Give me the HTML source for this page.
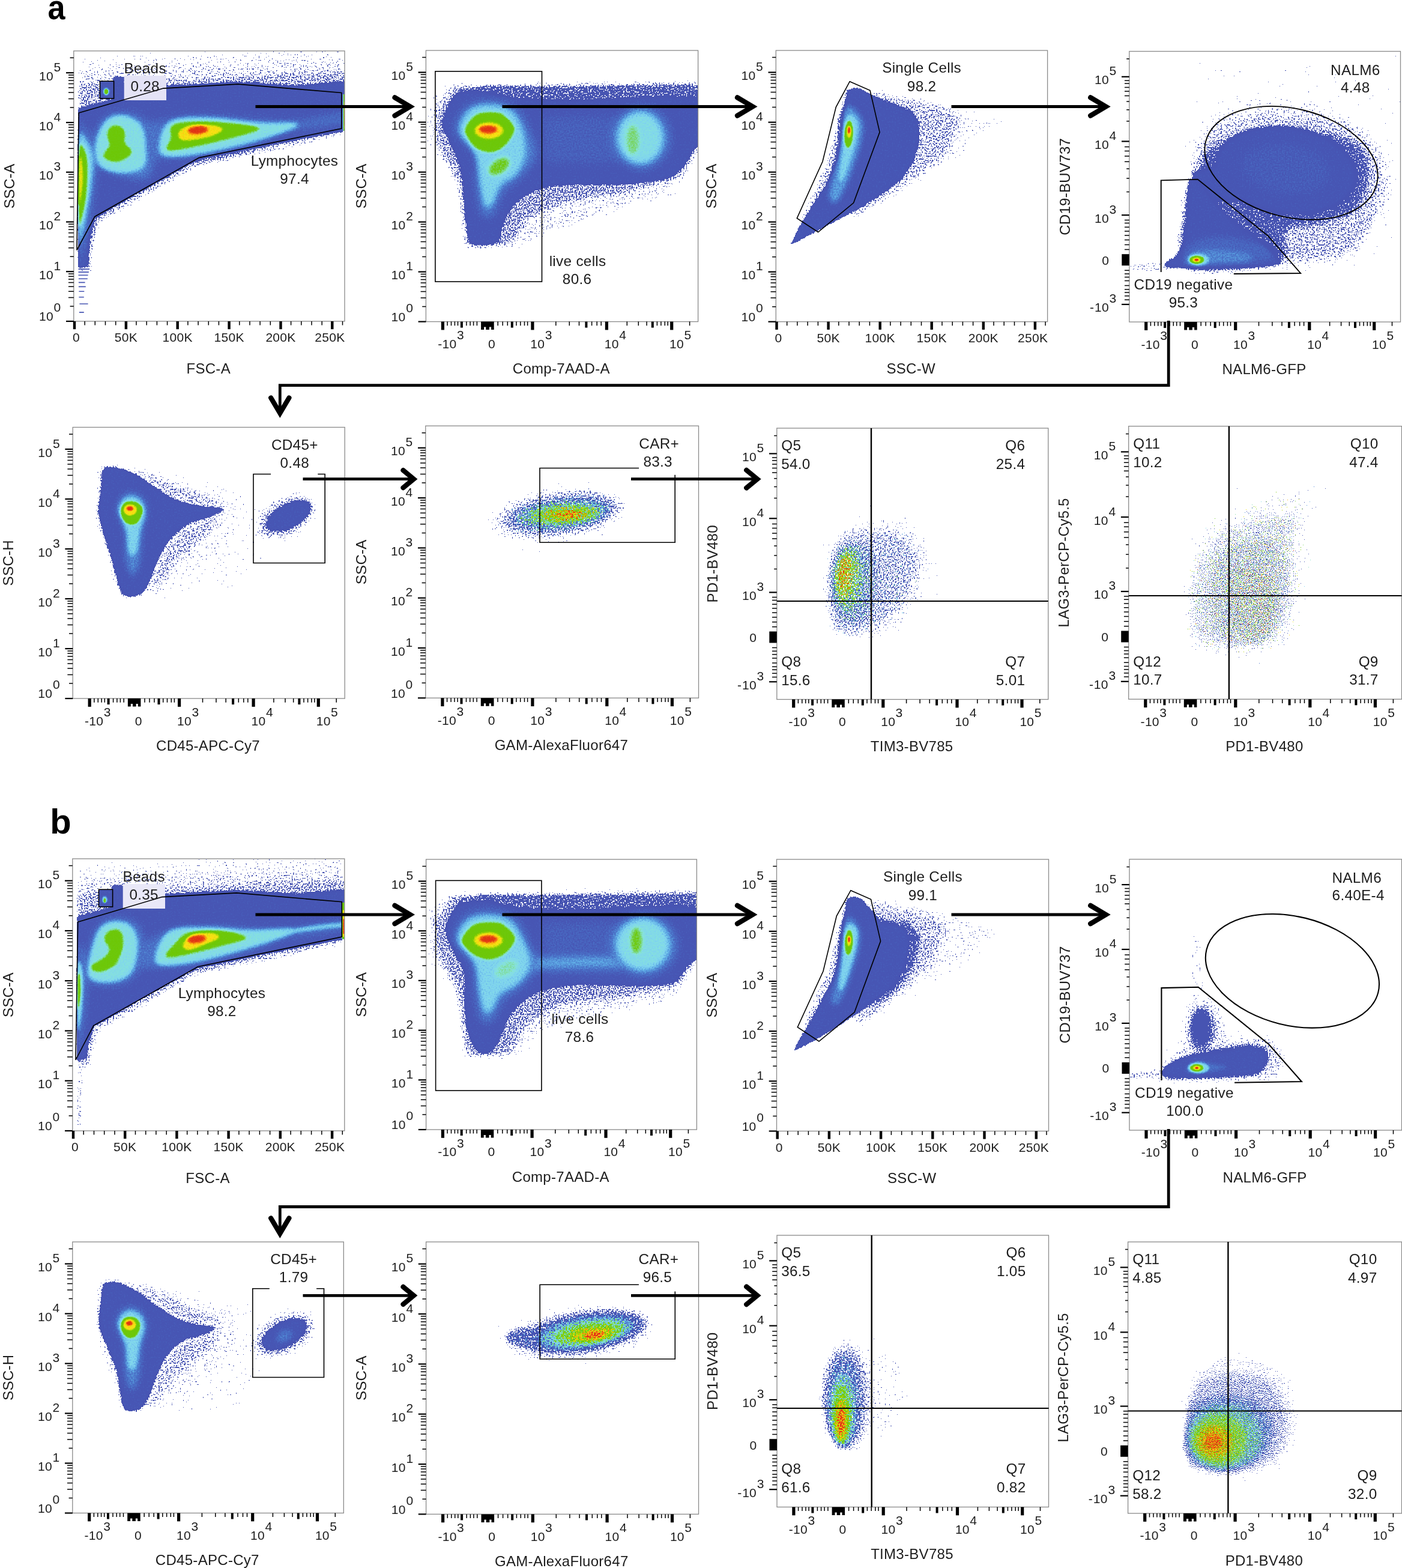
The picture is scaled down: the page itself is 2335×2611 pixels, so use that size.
<!DOCTYPE html>
<html lang="en"><head><meta charset="utf-8"><title>Flow cytometry gating strategy</title>
<style>html,body{margin:0;padding:0;background:#fff}svg{display:block}text{font-family:"Liberation Sans",Arial,Helvetica,sans-serif;fill:#1c1c1c;letter-spacing:.3px}</style>
</head><body>
<svg width="2335" height="2611" viewBox="0 0 2335 2611" role="img" aria-label="Flow cytometry gating strategy, panels a and b">
<rect width="100%" height="100%" fill="#fff"/>
<defs><filter id="b2" filterUnits="userSpaceOnUse" x="-120" y="-120" width="2060" height="2060" color-interpolation-filters="sRGB"><feGaussianBlur stdDeviation="2"/></filter><filter id="b3" filterUnits="userSpaceOnUse" x="-120" y="-120" width="2060" height="2060" color-interpolation-filters="sRGB"><feGaussianBlur stdDeviation="3"/></filter><filter id="b4" filterUnits="userSpaceOnUse" x="-120" y="-120" width="2060" height="2060" color-interpolation-filters="sRGB"><feGaussianBlur stdDeviation="4"/></filter><filter id="b5" filterUnits="userSpaceOnUse" x="-120" y="-120" width="2060" height="2060" color-interpolation-filters="sRGB"><feGaussianBlur stdDeviation="5"/></filter><filter id="b6" filterUnits="userSpaceOnUse" x="-120" y="-120" width="2060" height="2060" color-interpolation-filters="sRGB"><feGaussianBlur stdDeviation="6"/></filter><filter id="b7" filterUnits="userSpaceOnUse" x="-120" y="-120" width="2060" height="2060" color-interpolation-filters="sRGB"><feGaussianBlur stdDeviation="7"/></filter><filter id="b8" filterUnits="userSpaceOnUse" x="-120" y="-120" width="2060" height="2060" color-interpolation-filters="sRGB"><feGaussianBlur stdDeviation="8"/></filter><filter id="b9" filterUnits="userSpaceOnUse" x="-120" y="-120" width="2060" height="2060" color-interpolation-filters="sRGB"><feGaussianBlur stdDeviation="9"/></filter><filter id="b10" filterUnits="userSpaceOnUse" x="-120" y="-120" width="2060" height="2060" color-interpolation-filters="sRGB"><feGaussianBlur stdDeviation="10"/></filter><filter id="b11" filterUnits="userSpaceOnUse" x="-120" y="-120" width="2060" height="2060" color-interpolation-filters="sRGB"><feGaussianBlur stdDeviation="11"/></filter><filter id="b12" filterUnits="userSpaceOnUse" x="-120" y="-120" width="2060" height="2060" color-interpolation-filters="sRGB"><feGaussianBlur stdDeviation="12"/></filter><filter id="b14" filterUnits="userSpaceOnUse" x="-120" y="-120" width="2060" height="2060" color-interpolation-filters="sRGB"><feGaussianBlur stdDeviation="14"/></filter><filter id="b15" filterUnits="userSpaceOnUse" x="-120" y="-120" width="2060" height="2060" color-interpolation-filters="sRGB"><feGaussianBlur stdDeviation="15"/></filter><filter id="b16" filterUnits="userSpaceOnUse" x="-120" y="-120" width="2060" height="2060" color-interpolation-filters="sRGB"><feGaussianBlur stdDeviation="16"/></filter><filter id="b18" filterUnits="userSpaceOnUse" x="-120" y="-120" width="2060" height="2060" color-interpolation-filters="sRGB"><feGaussianBlur stdDeviation="18"/></filter><filter id="b20" filterUnits="userSpaceOnUse" x="-120" y="-120" width="2060" height="2060" color-interpolation-filters="sRGB"><feGaussianBlur stdDeviation="20"/></filter><filter id="b22" filterUnits="userSpaceOnUse" x="-120" y="-120" width="2060" height="2060" color-interpolation-filters="sRGB"><feGaussianBlur stdDeviation="22"/></filter><filter id="b24" filterUnits="userSpaceOnUse" x="-120" y="-120" width="2060" height="2060" color-interpolation-filters="sRGB"><feGaussianBlur stdDeviation="24"/></filter><filter id="b26" filterUnits="userSpaceOnUse" x="-120" y="-120" width="2060" height="2060" color-interpolation-filters="sRGB"><feGaussianBlur stdDeviation="26"/></filter><filter id="b28" filterUnits="userSpaceOnUse" x="-120" y="-120" width="2060" height="2060" color-interpolation-filters="sRGB"><feGaussianBlur stdDeviation="28"/></filter><filter id="b30" filterUnits="userSpaceOnUse" x="-120" y="-120" width="2060" height="2060" color-interpolation-filters="sRGB"><feGaussianBlur stdDeviation="30"/></filter><filter id="b35" filterUnits="userSpaceOnUse" x="-120" y="-120" width="2060" height="2060" color-interpolation-filters="sRGB"><feGaussianBlur stdDeviation="35"/></filter><filter id="b40" filterUnits="userSpaceOnUse" x="-120" y="-120" width="2060" height="2060" color-interpolation-filters="sRGB"><feGaussianBlur stdDeviation="40"/></filter></defs>
<clipPath id="c1"><rect x="122.8" y="84.8" width="451.2" height="450.2"/></clipPath>
<clipPath id="c2"><rect x="709.4" y="84" width="453.2" height="451.6"/></clipPath>
<clipPath id="c3"><rect x="1292.3" y="84" width="452.3" height="451.7"/></clipPath>
<clipPath id="c4"><rect x="1880.8" y="85.5" width="451.7" height="450.6"/></clipPath>
<clipPath id="c5"><rect x="121.2" y="711.5" width="453" height="451.6"/></clipPath>
<clipPath id="c6"><rect x="708.8" y="709.2" width="454.7" height="453.1"/></clipPath>
<clipPath id="c7"><rect x="1293.8" y="713" width="452" height="451.6"/></clipPath>
<clipPath id="c8"><rect x="1879.7" y="709.7" width="454.8" height="454.6"/></clipPath>
<clipPath id="c9"><rect x="120.8" y="1430" width="453" height="453"/></clipPath>
<clipPath id="c10"><rect x="709.6" y="1431" width="450.8" height="450"/></clipPath>
<clipPath id="c11"><rect x="1293.5" y="1431" width="453" height="452.5"/></clipPath>
<clipPath id="c12"><rect x="1881" y="1430.8" width="453.5" height="451.2"/></clipPath>
<clipPath id="c13"><rect x="120.8" y="2068" width="451.5" height="451.5"/></clipPath>
<clipPath id="c14"><rect x="709.6" y="2068" width="453.9" height="453.4"/></clipPath>
<clipPath id="c15"><rect x="1294" y="2057" width="452.5" height="452.5"/></clipPath>
<clipPath id="c16"><rect x="1878.6" y="2068" width="455.9" height="452"/></clipPath>
<g id="panel1">
<filter id="d1" filterUnits="userSpaceOnUse" x="122.8" y="84.8" width="451.2" height="450.2" color-interpolation-filters="sRGB"><feTurbulence type="fractalNoise" baseFrequency="0.42" numOctaves="1" seed="3" result="t"/><feColorMatrix in="t" type="matrix" values="0 0 0 0 0 0 0 0 0 0 0 0 0 0 0 1 0 0 0 0" result="na"/><feColorMatrix in="SourceGraphic" type="matrix" values="0 0 0 0 0 0 0 0 0 0 0 0 0 0 0 1 0 0 0 0"/><feComponentTransfer result="da"><feFuncA type="table" tableValues="0 0.11 0.23 0.36 0.5 0.66 0.85 1 1 1 1 1 1 1 1 1 1 1 1 1 1"/></feComponentTransfer><feComposite in="da" in2="na" operator="arithmetic" k1="0" k2="1" k3="1" k4="-0.36"/><feComponentTransfer result="m"><feFuncA type="discrete" tableValues="0 1"/></feComponentTransfer><feColorMatrix in="t" type="matrix" values="0 1 0 0 0 0 1 0 0 0 0 1 0 0 0 0 0 0 0 1" result="ng"/><feComposite in="SourceGraphic" in2="ng" operator="arithmetic" k1="0" k2="1" k3="0.1" k4="-0.05"/><feComponentTransfer result="col"><feFuncR type="table" tableValues="0.28 0.28 0.28 0.28 0.28 0.28 0.28 0.28 0.29 0.36 0.5 0.53 0.49 0.43 0.43 0.5 0.76 0.98 0.98 0.92 0.88"/><feFuncG type="table" tableValues="0.33 0.33 0.33 0.33 0.33 0.33 0.33 0.34 0.44 0.65 0.83 0.89 0.85 0.79 0.78 0.8 0.86 0.89 0.67 0.35 0.2"/><feFuncB type="table" tableValues="0.7 0.7 0.7 0.7 0.7 0.7 0.7 0.71 0.78 0.89 0.94 0.86 0.51 0.06 0.02 0.02 0.04 0.08 0.06 0.08 0.08"/></feComponentTransfer><feComposite in="col" in2="m" operator="in"/></filter><g filter="url(#d1)"><rect x="102.8" y="64.8" width="491.2" height="490.2" fill="#000"/><clipPath id="z1"><rect x="129.7" y="82.5" width="450.3" height="459.5"/></clipPath><g clip-path="url(#z1)"><g clip-path="url(#c1)"><g transform="translate(123 85) scale(0.24835)"><path d="M30 30L1830 -60L1830 260L30 340Z" fill="#121212" filter="url(#b30)"/><path d="M30 130L600 110L1830 60L1830 260L30 340Z" fill="#1a1a1a" filter="url(#b22)"/><path d="M30 225L600 195L1100 170L1830 140L1830 280L30 400Z" fill="#242424" filter="url(#b14)"/><path d="M1830 560L1400 660L840 775L500 965L170 1160L130 1300L120 1480L30 1480L30 400L1830 300Z" fill="#212121" filter="url(#b18)"/><path d="M30 385L170 350L268 322L268 175L335 175L340 300L600 238L1100 210L1500 235L1700 215L1830 205L1830 528L1400 612L840 722L500 910L140 1118L100 1250L95 1440L30 1455Z" fill="#575757" filter="url(#b6)"/><path d="M175 202L268 202L268 318L175 318Z" fill="#575757" filter="url(#b3)"/><path d="M30 540C41.7 396.7 78.3 513.3 100 540C121.7 566.7 151.7 640 160 700C168.3 760 159.2 816.7 150 900C140.8 983.3 121.7 1116.7 105 1200C88.3 1283.3 62.5 1366.7 50 1400C37.5 1433.3 33.3 1543.3 30 1400C26.7 1256.7 18.3 683.3 30 540Z" fill="#666666" filter="url(#b26)"/><path d="M120 620C128.3 568.3 165 485 200 450C235 415 283.3 408.3 330 410C376.7 411.7 445 425 480 460C515 495 533.3 560 540 620C546.7 680 540 780 520 820C500 860 465 861.7 420 860C375 858.3 295 826.7 250 810C205 793.3 171.7 791.7 150 760C128.3 728.3 111.7 671.7 120 620Z" fill="#6b6b6b" filter="url(#b30)"/><path d="M430 520C463.3 478.3 561.7 465 640 450C718.3 435 798.3 429.2 900 430C1001.7 430.8 1150 450 1250 455C1350 460 1403.3 467.5 1500 460C1596.7 452.5 1775 406.7 1830 410C1885 413.3 1901.7 457 1830 480C1758.3 503 1496.7 526 1400 548C1303.3 570 1333.3 587.5 1250 612C1166.7 636.5 1005 676.2 900 695C795 713.8 696.7 724.2 620 725C543.3 725.8 471.7 734.2 440 700C408.3 665.8 396.7 561.7 430 520Z" fill="#666666" filter="url(#b30)"/><path d="M32 600C40.8 491.7 68.7 580 85 600C101.3 620 124.5 670 130 720C135.5 770 125.7 836.7 118 900C110.3 963.3 95.3 1041.7 84 1100C72.7 1158.3 58.7 1225 50 1250C41.3 1275 35 1358.3 32 1250C29 1141.7 23.2 708.3 32 600Z" fill="#808080" filter="url(#b14)"/><path d="M150 615C157.5 566.7 185 500.5 215 470C245 439.5 290.8 427 330 432C369.2 437 424.7 463.7 450 500C475.3 536.3 480.3 603.3 482 650C483.7 696.7 490.3 752.5 460 780C429.7 807.5 348.3 818.3 300 815C251.7 811.7 195 793.3 170 760C145 726.7 142.5 663.3 150 615Z" fill="#878787" filter="url(#b15)"/><path d="M575 620C580 580.7 595.8 499 650 470C704.2 441 800 444.3 900 446C1000 447.7 1153.3 474 1250 480C1346.7 486 1441.7 476.3 1480 482C1518.3 487.7 1518.3 495.3 1480 514C1441.7 532.7 1346.7 566.7 1250 594C1153.3 621.3 1005 659.3 900 678C795 696.7 674.2 715.7 620 706C565.8 696.3 570 659.3 575 620Z" fill="#878787" filter="url(#b14)"/><path d="M33 670C38.8 587 58 637 68 652C78 667 90 710.3 93 760C96 809.7 90.8 896.7 86 950C81.2 1003.3 72.8 1046.7 64 1080C55.2 1113.3 38.2 1218.3 33 1150C27.8 1081.7 27.2 753 33 670Z" fill="#adadad" filter="url(#b8)"/><path d="M280 498C293.3 498.5 314.5 504.5 325 514C335.5 523.5 340.7 540.7 343 555C345.3 569.3 337.5 587.5 339 600C340.5 612.5 344.2 619.2 352 630C359.8 640.8 382 653.3 386 665C390 676.7 385.3 689.2 376 700C366.7 710.8 344.3 723 330 730C315.7 737 305.8 741 290 742C274.2 743 250.2 742.2 235 736C219.8 729.8 202.5 716 199 705C195.5 694 207.2 682.5 214 670C220.8 657.5 237.7 643.3 240 630C242.3 616.7 230.7 603.3 228 590C225.3 576.7 221.2 563.2 224 550C226.8 536.8 235.7 519.7 245 511C254.3 502.3 266.7 497.5 280 498Z" fill="#adadad" filter="url(#b9)"/><path d="M655 505C673.3 486.7 702.5 479.5 760 475C817.5 470.5 919.2 470.5 1000 478C1080.8 485.5 1245 500 1245 520C1245 540 1090.8 574.3 1000 598C909.2 621.7 763 652.5 700 662C637 671.5 630.3 667.8 622 655C613.7 642.2 644.5 610 650 585C655.5 560 636.7 523.3 655 505Z" fill="#adadad" filter="url(#b8)"/><path d="M35 735C37.8 685.8 47.5 695.8 52 715C56.5 734.2 62.7 802.5 62 850C61.3 897.5 52.5 973.3 48 1000C43.5 1026.7 37.2 1054.2 35 1010C32.8 965.8 32.2 784.2 35 735Z" fill="#d9d9d9" filter="url(#b8)"/><path d="M715 525C732 512 760.8 496.7 800 492C839.2 487.3 916.7 490.7 950 497C983.3 503.3 1008.3 516.2 1000 530C991.7 543.8 943.3 568 900 580C856.7 592 773.7 603.7 740 602C706.3 600.3 702.2 582.8 698 570C693.8 557.2 698 538 715 525Z" fill="#d9d9d9" filter="url(#b9)"/><ellipse cx="832" cy="530" rx="68" ry="27" fill="#ffffff" transform="rotate(-5 832 530)" filter="url(#b8)"/><ellipse cx="217" cy="272" rx="22" ry="26" fill="#808080" filter="url(#b4)"/><ellipse cx="217" cy="272" rx="13" ry="17" fill="#adadad" filter="url(#b3)"/><path d="M1806 290L1830 290L1830 535L1806 535Z" fill="#adadad" filter="url(#b3)"/><path d="M1811 340L1830 340L1830 520L1811 520Z" fill="#d9d9d9" filter="url(#b3)"/><path d="M1814 400L1830 400L1830 500L1814 500Z" fill="#ffffff" filter="url(#b2)"/></g></g></g></g><path d="M130.5 448.1h18.6M130.5 453.1h17.4M130.5 458.3h16.1M130.9 464.2h14.9M130.9 470.4h10.7M130.9 477.4h11.9M131.4 485.3h8.9M131.4 494.8h8.4M132.4 506h14.2M131.9 520.1h7.9" stroke="#4755b3" stroke-width="1.6" fill="none"/>
<rect x="122.8" y="84.8" width="451.2" height="450.2" fill="none" stroke="#8a8a8a" stroke-width="1.3"/>
<rect x="110" y="533.9" width="12.8" height="2.2"/>
<text x="88.9" y="534.2" font-size="21" text-anchor="end">10</text>
<text x="101.6" y="519.2" font-size="21" text-anchor="end">0</text>
<rect x="110" y="451.1" width="12.8" height="2.2"/>
<text x="88.9" y="464.7" font-size="21" text-anchor="end">10</text>
<text x="101.6" y="449.7" font-size="21" text-anchor="end">1</text>
<rect x="110" y="368.4" width="12.8" height="2.2"/>
<text x="88.9" y="382" font-size="21" text-anchor="end">10</text>
<text x="101.6" y="367" font-size="21" text-anchor="end">2</text>
<rect x="110" y="285.6" width="12.8" height="2.2"/>
<text x="88.9" y="299.2" font-size="21" text-anchor="end">10</text>
<text x="101.6" y="284.2" font-size="21" text-anchor="end">3</text>
<rect x="110" y="202.9" width="12.8" height="2.2"/>
<text x="88.9" y="216.5" font-size="21" text-anchor="end">10</text>
<text x="101.6" y="201.5" font-size="21" text-anchor="end">4</text>
<rect x="110" y="120.1" width="12.8" height="2.2"/>
<text x="88.9" y="133.7" font-size="21" text-anchor="end">10</text>
<text x="101.6" y="118.7" font-size="21" text-anchor="end">5</text>
<rect x="121.8" y="535" width="4.4" height="13.2"/>
<text x="127" y="569.2" font-size="21" text-anchor="middle">0</text>
<rect x="207.7" y="535" width="4.4" height="13.2"/>
<text x="209.9" y="569.2" font-size="21" text-anchor="middle">50K</text>
<rect x="293.5" y="535" width="4.4" height="13.2"/>
<text x="295.7" y="569.2" font-size="21" text-anchor="middle">100K</text>
<rect x="379.4" y="535" width="4.4" height="13.2"/>
<text x="381.6" y="569.2" font-size="21" text-anchor="middle">150K</text>
<rect x="465.3" y="535" width="4.4" height="13.2"/>
<text x="467.5" y="569.2" font-size="21" text-anchor="middle">200K</text>
<rect x="551.1" y="535" width="4.4" height="13.2"/>
<text x="574.6" y="569.2" font-size="21" text-anchor="end">250K</text>
<path d="M116.6 510.1h6.2M114 495.5h8.8M114 485.2h8.8M114 477.2h8.8M114 470.6h8.8M114 465.1h8.8M114 460.3h8.8M114 456h8.8M116.6 427.3h6.2M114 412.8h8.8M114 402.4h8.8M114 394.4h8.8M114 387.8h8.8M114 382.3h8.8M114 377.5h8.8M114 373.3h8.8M116.6 344.6h6.2M114 330h8.8M114 319.7h8.8M114 311.6h8.8M114 305.1h8.8M114 299.5h8.8M114 294.7h8.8M114 290.5h8.8M116.6 261.8h6.2M114 247.2h8.8M114 236.9h8.8M114 228.9h8.8M114 222.3h8.8M114 216.8h8.8M114 212h8.8M114 207.8h8.8M116.6 179.1h6.2M114 164.5h8.8M114 154.1h8.8M114 146.1h8.8M114 139.6h8.8M114 134h8.8M114 129.2h8.8M114 125h8.8M116.6 96.3h6.2M141.2 535v6.6M158.3 535v6.6M175.5 535v6.6M192.7 535v6.6M227 535v6.6M244.2 535v6.6M261.4 535v6.6M278.6 535v6.6M312.9 535v6.6M330.1 535v6.6M347.3 535v6.6M364.4 535v6.6M398.8 535v6.6M416 535v6.6M433.1 535v6.6M450.3 535v6.6M484.6 535v6.6M501.8 535v6.6M519 535v6.6M536.2 535v6.6M570.5 535v6.6" stroke="#000" stroke-width="1.5" fill="none"/>
<text x="347.2" y="621.6" font-size="24" text-anchor="middle" letter-spacing=".8">FSC-A</text>
<text transform="translate(23.5 309.9) rotate(-90)" font-size="24" text-anchor="middle" letter-spacing=".8">SSC-A</text>
<rect x="206.7" y="126" width="70.3" height="41" fill="#e4e3f6"/><path d="M131.2 188.1L272 147.1L396.2 140.1L568.8 154.5L568.8 214.1L331.6 262.6L157.8 360.7L128 416.5Z" fill="none" stroke="#000" stroke-width="1.6" stroke-linejoin="miter"/><rect x="166.5" y="135.2" width="23.1" height="28.8" fill="none" stroke="#000" stroke-width="1.6"/><text x="241.7" y="122" font-size="24.3" text-anchor="middle" letter-spacing=".35">Beads</text><text x="241.7" y="152" font-size="24.3" text-anchor="middle" letter-spacing=".35">0.28</text><text x="490.5" y="275.7" font-size="24.3" text-anchor="middle" letter-spacing=".35">Lymphocytes</text><text x="490.5" y="305.7" font-size="24.3" text-anchor="middle" letter-spacing=".35">97.4</text>
</g>
<g id="panel2">
<filter id="d2" filterUnits="userSpaceOnUse" x="709.4" y="84" width="453.2" height="451.6" color-interpolation-filters="sRGB"><feTurbulence type="fractalNoise" baseFrequency="0.42" numOctaves="1" seed="4" result="t"/><feColorMatrix in="t" type="matrix" values="0 0 0 0 0 0 0 0 0 0 0 0 0 0 0 1 0 0 0 0" result="na"/><feColorMatrix in="SourceGraphic" type="matrix" values="0 0 0 0 0 0 0 0 0 0 0 0 0 0 0 1 0 0 0 0"/><feComponentTransfer result="da"><feFuncA type="table" tableValues="0 0.11 0.23 0.36 0.5 0.66 0.85 1 1 1 1 1 1 1 1 1 1 1 1 1 1"/></feComponentTransfer><feComposite in="da" in2="na" operator="arithmetic" k1="0" k2="1" k3="1" k4="-0.36"/><feComponentTransfer result="m"><feFuncA type="discrete" tableValues="0 1"/></feComponentTransfer><feColorMatrix in="t" type="matrix" values="0 1 0 0 0 0 1 0 0 0 0 1 0 0 0 0 0 0 0 1" result="ng"/><feComposite in="SourceGraphic" in2="ng" operator="arithmetic" k1="0" k2="1" k3="0.1" k4="-0.05"/><feComponentTransfer result="col"><feFuncR type="table" tableValues="0.28 0.28 0.28 0.28 0.28 0.28 0.28 0.28 0.29 0.36 0.5 0.53 0.49 0.43 0.43 0.5 0.76 0.98 0.98 0.92 0.88"/><feFuncG type="table" tableValues="0.33 0.33 0.33 0.33 0.33 0.33 0.33 0.34 0.44 0.65 0.83 0.89 0.85 0.79 0.78 0.8 0.86 0.89 0.67 0.35 0.2"/><feFuncB type="table" tableValues="0.7 0.7 0.7 0.7 0.7 0.7 0.7 0.71 0.78 0.89 0.94 0.86 0.51 0.06 0.02 0.02 0.04 0.08 0.06 0.08 0.08"/></feComponentTransfer><feComposite in="col" in2="m" operator="in"/></filter><g filter="url(#d2)"><rect x="689.4" y="64" width="493.2" height="491.6" fill="#000"/><g clip-path="url(#c2)"><g transform="translate(710 84) scale(0.24835)"><path d="M0 330L150 230L1830 200L1830 700L1650 980L1300 1080L800 1250L620 1330L250 1340L200 900L0 640Z" fill="#171717" filter="url(#b30)"/><path d="M60 420L180 240L1830 215L1830 650L1700 860L1300 960L900 1030L680 1130L560 1310L270 1320L220 900L70 600Z" fill="#262626" filter="url(#b18)"/><path d="M180 340L230 262L400 236L800 242L1830 232L1830 400L180 400Z" fill="#303030" filter="url(#b7)"/><path d="M130 420C144.7 386.7 163.3 324.2 200 300C236.7 275.8 283.3 271.7 350 275C416.7 278.3 491.7 310 600 320C708.3 330 795 333.3 1000 335C1205 336.7 1691.7 285.8 1830 330C1968.3 374.2 1838.3 541.7 1830 600C1821.7 658.3 1798.3 650 1780 680C1761.7 710 1750 750 1720 780C1690 810 1670 840.8 1600 860C1530 879.2 1400 889.2 1300 895C1200 900.8 1086.7 890.8 1000 895C913.3 899.2 843.3 902.5 780 920C716.7 937.5 660 970 620 1000C580 1030 560 1066.7 540 1100C520 1133.3 511.7 1169.2 500 1200C488.3 1230.8 501.7 1269.2 470 1285C438.3 1300.8 342.5 1309.2 310 1295C277.5 1280.8 284.2 1249.2 275 1200C265.8 1150.8 261.7 1066.7 255 1000C248.3 933.3 251.7 866.7 235 800C218.3 733.3 175.5 650 155 600C134.5 550 116.2 530 112 500C107.8 470 115.3 453.3 130 420Z" fill="#575757" filter="url(#b7)"/><path d="M780 440L1300 440L1300 760L780 760Z" fill="#5e5e5e" filter="url(#b30)"/><path d="M190 540C180 486.7 221.7 415 260 380C298.3 345 363.3 330 420 330C476.7 330 555 348.3 600 380C645 411.7 666.7 466.7 690 520C713.3 573.3 748.3 645 740 700C731.7 755 676.7 808.3 640 850C603.3 891.7 551.7 908.3 520 950C488.3 991.7 475 1075 450 1100C425 1125 390 1133.3 370 1100C350 1066.7 338.3 966.7 330 900C321.7 833.3 343.3 760 320 700C296.7 640 200 593.3 190 540Z" fill="#6b6b6b" filter="url(#b30)"/><ellipse cx="1440" cy="585" rx="200" ry="215" fill="#6b6b6b" filter="url(#b30)"/><path d="M225 540C218.3 490 257.5 429.2 290 400C322.5 370.8 375 365 420 365C465 365 523.3 374.2 560 400C596.7 425.8 623.3 470 640 520C656.7 570 666.7 648.3 660 700C653.3 751.7 626.7 796.7 600 830C573.3 863.3 526.7 866.7 500 900C473.3 933.3 458.3 1008.3 440 1030C421.7 1051.7 403.3 1055 390 1030C376.7 1005 370 935 360 880C350 825 352.5 756.7 330 700C307.5 643.3 231.7 590 225 540Z" fill="#808080" filter="url(#b18)"/><ellipse cx="1435" cy="585" rx="150" ry="170" fill="#858585" filter="url(#b22)"/><ellipse cx="1385" cy="600" rx="45" ry="100" fill="#999999" filter="url(#b14)"/><ellipse cx="488" cy="778" rx="82" ry="48" fill="#a3a3a3" transform="rotate(-35 488 778)" filter="url(#b12)"/><path d="M258 530C261.3 508.3 283 478.3 300 460C317 441.7 330 427.3 360 420C390 412.7 450 411 480 416C510 421 521.3 432.7 540 450C558.7 467.3 588.7 495 592 520C595.3 545 575.3 576.7 560 600C544.7 623.3 523.3 646 500 660C476.7 674 448.3 685.3 420 684C391.7 682.7 353.3 667.7 330 652C306.7 636.3 292 610.3 280 590C268 569.7 254.7 551.7 258 530Z" fill="#adadad" filter="url(#b9)"/><ellipse cx="420" cy="537" rx="100" ry="58" fill="#d9d9d9" filter="url(#b10)"/><ellipse cx="415" cy="530" rx="60" ry="26" fill="#ffffff" filter="url(#b8)"/></g></g></g>
<rect x="709.4" y="84" width="453.2" height="451.6" fill="none" stroke="#8a8a8a" stroke-width="1.3"/>
<rect x="696.6" y="534.5" width="12.8" height="2.2"/>
<text x="675.5" y="534.8" font-size="21" text-anchor="end">10</text>
<text x="688.2" y="519.8" font-size="21" text-anchor="end">0</text>
<rect x="696.6" y="451.5" width="12.8" height="2.2"/>
<text x="675.5" y="465.1" font-size="21" text-anchor="end">10</text>
<text x="688.2" y="450.1" font-size="21" text-anchor="end">1</text>
<rect x="696.6" y="368.5" width="12.8" height="2.2"/>
<text x="675.5" y="382.1" font-size="21" text-anchor="end">10</text>
<text x="688.2" y="367.1" font-size="21" text-anchor="end">2</text>
<rect x="696.6" y="285.5" width="12.8" height="2.2"/>
<text x="675.5" y="299.1" font-size="21" text-anchor="end">10</text>
<text x="688.2" y="284.1" font-size="21" text-anchor="end">3</text>
<rect x="696.6" y="202.4" width="12.8" height="2.2"/>
<text x="675.5" y="216" font-size="21" text-anchor="end">10</text>
<text x="688.2" y="201" font-size="21" text-anchor="end">4</text>
<rect x="696.6" y="119.4" width="12.8" height="2.2"/>
<text x="675.5" y="133" font-size="21" text-anchor="end">10</text>
<text x="688.2" y="118" font-size="21" text-anchor="end">5</text>
<rect x="734.8" y="535.6" width="5.2" height="13.8"/>
<text x="729.2" y="580" font-size="21">-</text>
<text x="736.5" y="580" font-size="21">10</text>
<text x="760.9" y="565.4" font-size="21">3</text>
<path d="M801.1 535.6H822.7v13.5h-4.6v-4.5h-3.2v4.5h-5.6v-4.5h-3.2v4.5H801.1z"/>
<text x="813" y="580" font-size="21">0</text>
<rect x="884.3" y="535.6" width="5.2" height="13.8"/>
<text x="883.3" y="580" font-size="21">10</text>
<text x="907.7" y="565.4" font-size="21">3</text>
<rect x="1007.8" y="535.6" width="5.2" height="13.8"/>
<text x="1006.8" y="580" font-size="21">10</text>
<text x="1031.2" y="565.4" font-size="21">4</text>
<rect x="1116.1" y="535.6" width="5.2" height="13.8"/>
<text x="1115.1" y="580" font-size="21">10</text>
<text x="1139.5" y="565.4" font-size="21">5</text>
<rect x="766.9" y="535.6" width="4" height="10"/>
<rect x="850.8" y="535.6" width="4" height="10"/>
<rect x="974.4" y="535.6" width="4" height="10"/>
<rect x="1084.8" y="535.6" width="4" height="10"/>
<path d="M703.2 510.6h6.2M700.6 496h8.8M700.6 485.6h8.8M700.6 477.6h8.8M700.6 471h8.8M700.6 465.4h8.8M700.6 460.6h8.8M700.6 456.4h8.8M703.2 427.6h6.2M700.6 413h8.8M700.6 402.6h8.8M700.6 394.6h8.8M700.6 388h8.8M700.6 382.4h8.8M700.6 377.6h8.8M700.6 373.4h8.8M703.2 344.6h6.2M700.6 330h8.8M700.6 319.6h8.8M700.6 311.5h8.8M700.6 305h8.8M700.6 299.4h8.8M700.6 294.6h8.8M700.6 290.4h8.8M703.2 261.6h6.2M700.6 246.9h8.8M700.6 236.6h8.8M700.6 228.5h8.8M700.6 222h8.8M700.6 216.4h8.8M700.6 211.6h8.8M700.6 207.3h8.8M703.2 178.6h6.2M700.6 163.9h8.8M700.6 153.6h8.8M700.6 145.5h8.8M700.6 138.9h8.8M700.6 133.4h8.8M700.6 128.6h8.8M700.6 124.3h8.8M703.2 95.5h6.2M745.1 535.6v6.6M751.5 535.6v6.6M757.4 535.6v6.6M762.5 535.6v6.6M776.9 535.6v6.6M783.1 535.6v6.6M788.6 535.6v6.6M794.4 535.6v6.6M829.2 535.6v6.6M837.2 535.6v6.6M845.3 535.6v6.6M860 535.6v6.6M866.8 535.6v6.6M873.5 535.6v6.6M878.6 535.6v6.6M925.8 535.6v6.6M948.3 535.6v6.6M964.5 535.6v6.6M985.6 535.6v6.6M994.2 535.6v6.6M1001.2 535.6v6.6M1044.3 535.6v6.6M1063.3 535.6v6.6M1077.1 535.6v6.6M1094.4 535.6v6.6M1100.9 535.6v6.6M1107.3 535.6v6.6M1112.2 535.6v6.6M1148.6 535.6v6.6" stroke="#000" stroke-width="1.5" fill="none"/>
<text x="934.8" y="622.2" font-size="24" text-anchor="middle" letter-spacing=".8">Comp-7AAD-A</text>
<text transform="translate(610.1 309.8) rotate(-90)" font-size="24" text-anchor="middle" letter-spacing=".8">SSC-A</text>
<rect x="724.9" y="118.8" width="177.6" height="350.2" fill="none" stroke="#000" stroke-width="1.6"/><text x="962.1" y="442.9" font-size="24.3" text-anchor="middle" letter-spacing=".35">live cells</text><text x="961.1" y="472.9" font-size="24.3" text-anchor="middle" letter-spacing=".35">80.6</text>
</g>
<g id="panel3">
<filter id="d3" filterUnits="userSpaceOnUse" x="1292.3" y="84" width="452.3" height="451.7" color-interpolation-filters="sRGB"><feTurbulence type="fractalNoise" baseFrequency="0.42" numOctaves="1" seed="5" result="t"/><feColorMatrix in="t" type="matrix" values="0 0 0 0 0 0 0 0 0 0 0 0 0 0 0 1 0 0 0 0" result="na"/><feColorMatrix in="SourceGraphic" type="matrix" values="0 0 0 0 0 0 0 0 0 0 0 0 0 0 0 1 0 0 0 0"/><feComponentTransfer result="da"><feFuncA type="table" tableValues="0 0.11 0.23 0.36 0.5 0.66 0.85 1 1 1 1 1 1 1 1 1 1 1 1 1 1"/></feComponentTransfer><feComposite in="da" in2="na" operator="arithmetic" k1="0" k2="1" k3="1" k4="-0.36"/><feComponentTransfer result="m"><feFuncA type="discrete" tableValues="0 1"/></feComponentTransfer><feColorMatrix in="t" type="matrix" values="0 1 0 0 0 0 1 0 0 0 0 1 0 0 0 0 0 0 0 1" result="ng"/><feComposite in="SourceGraphic" in2="ng" operator="arithmetic" k1="0" k2="1" k3="0.1" k4="-0.05"/><feComponentTransfer result="col"><feFuncR type="table" tableValues="0.28 0.28 0.28 0.28 0.28 0.28 0.28 0.28 0.29 0.36 0.5 0.53 0.49 0.43 0.43 0.5 0.76 0.98 0.98 0.92 0.88"/><feFuncG type="table" tableValues="0.33 0.33 0.33 0.33 0.33 0.33 0.33 0.34 0.44 0.65 0.83 0.89 0.85 0.79 0.78 0.8 0.86 0.89 0.67 0.35 0.2"/><feFuncB type="table" tableValues="0.7 0.7 0.7 0.7 0.7 0.7 0.7 0.71 0.78 0.89 0.94 0.86 0.51 0.06 0.02 0.02 0.04 0.08 0.06 0.08 0.08"/></feComponentTransfer><feComposite in="col" in2="m" operator="in"/></filter><g filter="url(#d3)"><rect x="1272.3" y="64" width="492.3" height="491.7" fill="#000"/><g clip-path="url(#c3)"><g transform="translate(1293 84) scale(0.24835)"><path d="M640 260L1250 360L1550 470L1250 720L900 920L650 1080L600 700Z" fill="#121212" filter="url(#b35)"/><path d="M640 280L1100 370L1250 450L1150 700L900 880L650 1050L500 1150L600 700Z" fill="#212121" filter="url(#b22)"/><path d="M470 240L420 400L330 760L160 1130L300 1160L500 800L560 300Z" fill="#1f1f1f" filter="url(#b14)"/><path d="M95 1305L150 1190L235 1060L335 900L405 745L432 600L452 400L478 270L520 250L570 258L640 300L720 335L900 405L950 470L955 600L920 740L840 860L700 965L500 1090L300 1195Z" fill="#575757" filter="url(#b6)"/><path d="M500 370C520.8 380 567.5 431.7 580 470C592.5 508.3 583.3 553.3 575 600C566.7 646.7 546.7 700 530 750C513.3 800 495.8 855 475 900C454.2 945 425.8 1006.7 405 1020C384.2 1033.3 352.5 1016.7 350 980C347.5 943.3 377.5 855 390 800C402.5 745 417.5 700 425 650C432.5 600 430 540 435 500C440 460 444.2 431.7 455 410C465.8 388.3 479.2 360 500 370Z" fill="#707070" filter="url(#b18)"/><path d="M500 430C512.5 435 539.2 451.7 545 480C550.8 508.3 542.5 560 535 600C527.5 640 514.2 676.7 500 720C485.8 763.3 463.3 836.7 450 860C436.7 883.3 421.7 886.7 420 860C418.3 833.3 434.2 756.7 440 700C445.8 643.3 450 561.7 455 520C460 478.3 462.5 465 470 450C477.5 435 487.5 425 500 430Z" fill="#808080" filter="url(#b11)"/><ellipse cx="485" cy="562" rx="30" ry="92" fill="#adadad" transform="rotate(3 485 562)" filter="url(#b7)"/><ellipse cx="487" cy="545" rx="17" ry="45" fill="#d9d9d9" filter="url(#b6)"/><ellipse cx="488" cy="535" rx="9" ry="22" fill="#ffffff" filter="url(#b5)"/></g></g></g>
<rect x="1292.3" y="84" width="452.3" height="451.7" fill="none" stroke="#8a8a8a" stroke-width="1.3"/>
<rect x="1279.5" y="534.6" width="12.8" height="2.2"/>
<text x="1258.4" y="534.9" font-size="21" text-anchor="end">10</text>
<text x="1271.1" y="519.9" font-size="21" text-anchor="end">0</text>
<rect x="1279.5" y="451.6" width="12.8" height="2.2"/>
<text x="1258.4" y="465.2" font-size="21" text-anchor="end">10</text>
<text x="1271.1" y="450.2" font-size="21" text-anchor="end">1</text>
<rect x="1279.5" y="368.5" width="12.8" height="2.2"/>
<text x="1258.4" y="382.1" font-size="21" text-anchor="end">10</text>
<text x="1271.1" y="367.1" font-size="21" text-anchor="end">2</text>
<rect x="1279.5" y="285.5" width="12.8" height="2.2"/>
<text x="1258.4" y="299.1" font-size="21" text-anchor="end">10</text>
<text x="1271.1" y="284.1" font-size="21" text-anchor="end">3</text>
<rect x="1279.5" y="202.5" width="12.8" height="2.2"/>
<text x="1258.4" y="216.1" font-size="21" text-anchor="end">10</text>
<text x="1271.1" y="201.1" font-size="21" text-anchor="end">4</text>
<rect x="1279.5" y="119.4" width="12.8" height="2.2"/>
<text x="1258.4" y="133" font-size="21" text-anchor="end">10</text>
<text x="1271.1" y="118" font-size="21" text-anchor="end">5</text>
<rect x="1291.3" y="535.7" width="4.4" height="13.2"/>
<text x="1296.5" y="569.9" font-size="21" text-anchor="middle">0</text>
<rect x="1377.4" y="535.7" width="4.4" height="13.2"/>
<text x="1379.6" y="569.9" font-size="21" text-anchor="middle">50K</text>
<rect x="1463.5" y="535.7" width="4.4" height="13.2"/>
<text x="1465.7" y="569.9" font-size="21" text-anchor="middle">100K</text>
<rect x="1549.5" y="535.7" width="4.4" height="13.2"/>
<text x="1551.7" y="569.9" font-size="21" text-anchor="middle">150K</text>
<rect x="1635.6" y="535.7" width="4.4" height="13.2"/>
<text x="1637.8" y="569.9" font-size="21" text-anchor="middle">200K</text>
<rect x="1721.7" y="535.7" width="4.4" height="13.2"/>
<text x="1745.2" y="569.9" font-size="21" text-anchor="end">250K</text>
<path d="M1286.1 510.7h6.2M1283.5 496.1h8.8M1283.5 485.7h8.8M1283.5 477.7h8.8M1283.5 471.1h8.8M1283.5 465.5h8.8M1283.5 460.7h8.8M1283.5 456.5h8.8M1286.1 427.7h6.2M1283.5 413.1h8.8M1283.5 402.7h8.8M1283.5 394.6h8.8M1283.5 388.1h8.8M1283.5 382.5h8.8M1283.5 377.7h8.8M1283.5 373.4h8.8M1286.1 344.6h6.2M1283.5 330h8.8M1283.5 319.6h8.8M1283.5 311.6h8.8M1283.5 305h8.8M1283.5 299.5h8.8M1283.5 294.6h8.8M1283.5 290.4h8.8M1286.1 261.6h6.2M1283.5 247h8.8M1283.5 236.6h8.8M1283.5 228.6h8.8M1283.5 222h8.8M1283.5 216.4h8.8M1283.5 211.6h8.8M1283.5 207.4h8.8M1286.1 178.6h6.2M1283.5 164h8.8M1283.5 153.6h8.8M1283.5 145.5h8.8M1283.5 139h8.8M1283.5 133.4h8.8M1283.5 128.6h8.8M1283.5 124.3h8.8M1286.1 95.5h6.2M1310.7 535.7v6.6M1327.9 535.7v6.6M1345.1 535.7v6.6M1362.4 535.7v6.6M1396.8 535.7v6.6M1414 535.7v6.6M1431.2 535.7v6.6M1448.4 535.7v6.6M1482.9 535.7v6.6M1500.1 535.7v6.6M1517.3 535.7v6.6M1534.5 535.7v6.6M1569 535.7v6.6M1586.2 535.7v6.6M1603.4 535.7v6.6M1620.6 535.7v6.6M1655 535.7v6.6M1672.2 535.7v6.6M1689.5 535.7v6.6M1706.7 535.7v6.6M1741.1 535.7v6.6" stroke="#000" stroke-width="1.5" fill="none"/>
<text x="1517.2" y="622.3" font-size="24" text-anchor="middle" letter-spacing=".8">SSC-W</text>
<text transform="translate(1193 309.9) rotate(-90)" font-size="24" text-anchor="middle" letter-spacing=".8">SSC-A</text>
<path d="M1415.2 135.7L1449 150.6L1465.1 220.1L1421.6 337.8L1362.5 386.5L1327.3 363.4L1370 269L1392.3 178.4Z" fill="none" stroke="#000" stroke-width="1.6" stroke-linejoin="miter"/><text x="1535.1" y="121.3" font-size="24.3" text-anchor="middle" letter-spacing=".35">Single Cells</text><text x="1535.1" y="151.6" font-size="24.3" text-anchor="middle" letter-spacing=".35">98.2</text>
</g>
<g id="panel4">
<filter id="d4" filterUnits="userSpaceOnUse" x="1880.8" y="85.5" width="451.7" height="450.6" color-interpolation-filters="sRGB"><feTurbulence type="fractalNoise" baseFrequency="0.42" numOctaves="1" seed="6" result="t"/><feColorMatrix in="t" type="matrix" values="0 0 0 0 0 0 0 0 0 0 0 0 0 0 0 1 0 0 0 0" result="na"/><feColorMatrix in="SourceGraphic" type="matrix" values="0 0 0 0 0 0 0 0 0 0 0 0 0 0 0 1 0 0 0 0"/><feComponentTransfer result="da"><feFuncA type="table" tableValues="0 0.11 0.23 0.36 0.5 0.66 0.85 1 1 1 1 1 1 1 1 1 1 1 1 1 1"/></feComponentTransfer><feComposite in="da" in2="na" operator="arithmetic" k1="0" k2="1" k3="1" k4="-0.36"/><feComponentTransfer result="m"><feFuncA type="discrete" tableValues="0 1"/></feComponentTransfer><feColorMatrix in="t" type="matrix" values="0 1 0 0 0 0 1 0 0 0 0 1 0 0 0 0 0 0 0 1" result="ng"/><feComposite in="SourceGraphic" in2="ng" operator="arithmetic" k1="0" k2="1" k3="0.1" k4="-0.05"/><feComponentTransfer result="col"><feFuncR type="table" tableValues="0.28 0.28 0.28 0.28 0.28 0.28 0.28 0.28 0.29 0.36 0.5 0.53 0.49 0.43 0.43 0.5 0.76 0.98 0.98 0.92 0.88"/><feFuncG type="table" tableValues="0.33 0.33 0.33 0.33 0.33 0.33 0.33 0.34 0.44 0.65 0.83 0.89 0.85 0.79 0.78 0.8 0.86 0.89 0.67 0.35 0.2"/><feFuncB type="table" tableValues="0.7 0.7 0.7 0.7 0.7 0.7 0.7 0.71 0.78 0.89 0.94 0.86 0.51 0.06 0.02 0.02 0.04 0.08 0.06 0.08 0.08"/></feComponentTransfer><feComposite in="col" in2="m" operator="in"/></filter><g filter="url(#d4)"><rect x="1860.8" y="65.5" width="491.7" height="490.6" fill="#000"/><g clip-path="url(#c4)"><g transform="translate(1881 85) scale(0.24835)"><path d="M400 60L1830 60L1830 1300L1500 1500L400 1500Z" fill="#0b0b0b" filter="url(#b40)"/><ellipse cx="1080" cy="820" rx="680" ry="480" fill="#171717" transform="rotate(10 1080 820)" filter="url(#b40)"/><path d="M420 800C465 670 503.3 581.7 600 520C696.7 458.3 850 430 1000 430C1150 430 1383.3 458.3 1500 520C1616.7 581.7 1675 703.3 1700 800C1725 896.7 1683.3 1008.3 1650 1100C1616.7 1191.7 1575 1296.7 1500 1350C1425 1403.3 1300 1403.3 1200 1420C1100 1436.7 1033.3 1441.7 900 1450C766.7 1458.3 495 1495 400 1470C305 1445 326.7 1411.7 330 1300C333.3 1188.3 375 930 420 800Z" fill="#212121" filter="url(#b30)"/><path d="M0 1425L300 1405L300 1475L0 1475Z" fill="#1a1a1a" filter="url(#b10)"/><path d="M450 850C480 790 468.3 695 560 640C651.7 585 846.7 526.7 1000 520C1153.3 513.3 1380 553.3 1480 600C1580 646.7 1593.3 725 1600 800C1606.7 875 1570 991.7 1520 1050C1470 1108.3 1378.3 1125 1300 1150C1221.7 1175 1100 1158.3 1050 1200C1000 1241.7 1108.3 1360 1000 1400C891.7 1440 503.3 1506.7 400 1440C296.7 1373.3 371.7 1098.3 380 1000C388.3 901.7 420 910 450 850Z" fill="#333333" filter="url(#b22)"/><ellipse cx="1050" cy="800" rx="470" ry="285" fill="#575757" transform="rotate(8 1050 800)" filter="url(#b10)"/><path d="M405 870C418 850 444.2 858.3 470 880C495.8 901.7 521.7 955 560 1000C598.3 1045 651.7 1108.3 700 1150C748.3 1191.7 808.3 1216.7 850 1250C891.7 1283.3 925 1320.8 950 1350C975 1379.2 1041.7 1408 1000 1425C958.3 1442 816.7 1447.5 700 1452C583.3 1456.5 375.8 1456.5 300 1452C224.2 1447.5 239.2 1442 245 1425C250.8 1408 312.5 1387.5 335 1350C357.5 1312.5 370.5 1258.3 380 1200C389.5 1141.7 387.8 1055 392 1000C396.2 945 392 890 405 870Z" fill="#575757" filter="url(#b8)"/><path d="M420 820L620 760L760 1000L560 1000Z" fill="#575757" filter="url(#b10)"/><ellipse cx="1050" cy="790" rx="300" ry="170" fill="#5c5c5c" transform="rotate(8 1050 790)" filter="url(#b30)"/><path d="M400 1300C436.7 1268.3 516.7 1240 600 1240C683.3 1240 841.7 1273.3 900 1300C958.3 1326.7 1000 1378.3 950 1400C900 1421.7 695 1425 600 1430C505 1435 413.3 1451.7 380 1430C346.7 1408.3 363.3 1331.7 400 1300Z" fill="#616161" filter="url(#b24)"/><path d="M380 1390C388.3 1375 413.3 1350 450 1340C486.7 1330 541.7 1326.7 600 1330C658.3 1333.3 766.7 1346.7 800 1360C833.3 1373.3 833.3 1399.2 800 1410C766.7 1420.8 666.7 1421.7 600 1425C533.3 1428.3 436.7 1435.8 400 1430C363.3 1424.2 371.7 1405 380 1390Z" fill="#6b6b6b" filter="url(#b16)"/><ellipse cx="462" cy="1398" rx="72" ry="40" fill="#808080" filter="url(#b8)"/><ellipse cx="452" cy="1400" rx="50" ry="29" fill="#adadad" filter="url(#b5)"/><ellipse cx="450" cy="1400" rx="30" ry="17" fill="#d9d9d9" filter="url(#b4)"/><ellipse cx="450" cy="1400" rx="13" ry="8" fill="#ffffff" filter="url(#b3)"/></g></g></g>
<rect x="1880.8" y="85.5" width="451.7" height="450.6" fill="none" stroke="#8a8a8a" stroke-width="1.3"/>
<rect x="1868" y="505.8" width="12.8" height="2.2"/>
<text x="1846.9" y="519.4" font-size="21" text-anchor="end">10</text>
<text x="1822.3" y="519.4" font-size="21" text-anchor="end">-</text>
<text x="1859.6" y="504.4" font-size="21" text-anchor="end">3</text>
<rect x="1868.3" y="423.2" width="12.5" height="19"/>
<text x="1847.3" y="440.5" font-size="21" text-anchor="end">0</text>
<rect x="1868" y="357.1" width="12.8" height="2.2"/>
<text x="1846.9" y="370.7" font-size="21" text-anchor="end">10</text>
<text x="1859.6" y="355.7" font-size="21" text-anchor="end">3</text>
<rect x="1868" y="234.3" width="12.8" height="2.2"/>
<text x="1846.9" y="247.9" font-size="21" text-anchor="end">10</text>
<text x="1859.6" y="232.9" font-size="21" text-anchor="end">4</text>
<rect x="1868" y="126.7" width="12.8" height="2.2"/>
<text x="1846.9" y="140.3" font-size="21" text-anchor="end">10</text>
<text x="1859.6" y="125.3" font-size="21" text-anchor="end">5</text>
<rect x="1906.1" y="536.1" width="5.2" height="13.8"/>
<text x="1900.5" y="580.5" font-size="21">-</text>
<text x="1907.8" y="580.5" font-size="21">10</text>
<text x="1932.2" y="565.9" font-size="21">3</text>
<path d="M1972.2 536.1H1993.7v13.5h-4.6v-4.5h-3.2v4.5h-5.6v-4.5h-3.2v4.5H1972.2z"/>
<text x="1984" y="580.5" font-size="21">0</text>
<rect x="2055.1" y="536.1" width="5.2" height="13.8"/>
<text x="2054.1" y="580.5" font-size="21">10</text>
<text x="2078.5" y="565.9" font-size="21">3</text>
<rect x="2178.2" y="536.1" width="5.2" height="13.8"/>
<text x="2177.2" y="580.5" font-size="21">10</text>
<text x="2201.6" y="565.9" font-size="21">4</text>
<rect x="2286.1" y="536.1" width="5.2" height="13.8"/>
<text x="2285.1" y="580.5" font-size="21">10</text>
<text x="2309.5" y="565.9" font-size="21">5</text>
<rect x="1938.1" y="536.1" width="4" height="10"/>
<rect x="2021.7" y="536.1" width="4" height="10"/>
<rect x="2144.9" y="536.1" width="4" height="10"/>
<rect x="2255" y="536.1" width="4" height="10"/>
<path d="M1873 475.6h7.8M1873 392.1h7.8M1873 269.2h7.8M1873 159.5h7.8M1873 499.2h7.8M1873 492.8h7.8M1873 486.9h7.8M1873 481.9h7.8M1873 467.6h7.8M1873 461.4h7.8M1873 455.9h7.8M1873 450.2h7.8M1873 415.6h7.8M1873 407.6h7.8M1873 399.6h7.8M1873 385h7.8M1873 378.2h7.8M1873 371.5h7.8M1873 366.4h7.8M1876.2 319.6h4.6M1876.2 297.1h4.6M1876.2 281.1h4.6M1873 260.1h7.8M1873 251.6h7.8M1873 244.6h7.8M1876.2 201.7h4.6M1876.2 182.8h4.6M1876.2 169.1h4.6M1873 151.9h7.8M1873 145.4h7.8M1873 139.1h7.8M1873 134.2h7.8M1876.2 98.1h4.6M1916.4 536.1v6.6M1922.8 536.1v6.6M1928.7 536.1v6.6M1933.8 536.1v6.6M1948.1 536.1v6.6M1954.3 536.1v6.6M1959.7 536.1v6.6M1965.5 536.1v6.6M2000.2 536.1v6.6M2008.2 536.1v6.6M2016.2 536.1v6.6M2030.9 536.1v6.6M2037.7 536.1v6.6M2044.4 536.1v6.6M2049.5 536.1v6.6M2096.5 536.1v6.6M2118.9 536.1v6.6M2135 536.1v6.6M2156.1 536.1v6.6M2164.6 536.1v6.6M2171.6 536.1v6.6M2214.6 536.1v6.6M2233.6 536.1v6.6M2247.3 536.1v6.6M2264.5 536.1v6.6M2271 536.1v6.6M2277.3 536.1v6.6M2282.2 536.1v6.6M2318.5 536.1v6.6" stroke="#000" stroke-width="1.5" fill="none"/>
<text x="2105.5" y="622.7" font-size="24" text-anchor="middle" letter-spacing=".8">NALM6-GFP</text>
<text transform="translate(1781.5 310.8) rotate(-90)" font-size="24" text-anchor="middle" letter-spacing=".8">CD19-BUV737</text>
<ellipse cx="2150.5" cy="271.3" rx="146.8" ry="90.2" transform="rotate(14 2150.5 271.3)" fill="none" stroke="#000" stroke-width="1.9"/><path d="M2054.8 456L2166.1 455L2112 393L1994.7 298.6L1933.7 300.3L1933.7 453.1" fill="none" stroke="#000" stroke-width="1.9" stroke-linejoin="miter"/><text x="2257.3" y="124.7" font-size="24.3" text-anchor="middle" letter-spacing=".35">NALM6</text><text x="2257.3" y="154.2" font-size="24.3" text-anchor="middle" letter-spacing=".35">4.48</text><text x="1970.9" y="481.6" font-size="24.3" text-anchor="middle" letter-spacing=".35">CD19 negative</text><text x="1970.9" y="511.9" font-size="24.3" text-anchor="middle" letter-spacing=".35">95.3</text>
</g>
<g id="panel5">
<filter id="d5" filterUnits="userSpaceOnUse" x="121.2" y="711.5" width="453" height="451.6" color-interpolation-filters="sRGB"><feTurbulence type="fractalNoise" baseFrequency="0.42" numOctaves="1" seed="7" result="t"/><feColorMatrix in="t" type="matrix" values="0 0 0 0 0 0 0 0 0 0 0 0 0 0 0 1 0 0 0 0" result="na"/><feColorMatrix in="SourceGraphic" type="matrix" values="0 0 0 0 0 0 0 0 0 0 0 0 0 0 0 1 0 0 0 0"/><feComponentTransfer result="da"><feFuncA type="table" tableValues="0 0.11 0.23 0.36 0.5 0.66 0.85 1 1 1 1 1 1 1 1 1 1 1 1 1 1"/></feComponentTransfer><feComposite in="da" in2="na" operator="arithmetic" k1="0" k2="1" k3="1" k4="-0.36"/><feComponentTransfer result="m"><feFuncA type="discrete" tableValues="0 1"/></feComponentTransfer><feColorMatrix in="t" type="matrix" values="0 1 0 0 0 0 1 0 0 0 0 1 0 0 0 0 0 0 0 1" result="ng"/><feComposite in="SourceGraphic" in2="ng" operator="arithmetic" k1="0" k2="1" k3="0.1" k4="-0.05"/><feComponentTransfer result="col"><feFuncR type="table" tableValues="0.28 0.28 0.28 0.28 0.28 0.28 0.28 0.28 0.29 0.36 0.5 0.53 0.49 0.43 0.43 0.5 0.76 0.98 0.98 0.92 0.88"/><feFuncG type="table" tableValues="0.33 0.33 0.33 0.33 0.33 0.33 0.33 0.34 0.44 0.65 0.83 0.89 0.85 0.79 0.78 0.8 0.86 0.89 0.67 0.35 0.2"/><feFuncB type="table" tableValues="0.7 0.7 0.7 0.7 0.7 0.7 0.7 0.71 0.78 0.89 0.94 0.86 0.51 0.06 0.02 0.02 0.04 0.08 0.06 0.08 0.08"/></feComponentTransfer><feComposite in="col" in2="m" operator="in"/></filter><g filter="url(#d5)"><rect x="101.2" y="691.5" width="493" height="491.6" fill="#000"/><g clip-path="url(#c5)"><g transform="translate(122 712) scale(0.24835)"><path d="M400 300L1250 400L1300 900L1050 1150L500 1150Z" fill="#0f0f0f" filter="url(#b40)"/><path d="M170 270L500 270L1100 480L1100 700L800 1000L500 1130L300 1120L160 700Z" fill="#141414" filter="url(#b30)"/><path d="M300 300L450 290L1000 500L950 680L700 900L540 1100L400 1000Z" fill="#212121" filter="url(#b18)"/><ellipse cx="1430" cy="600" rx="230" ry="160" fill="#141414" transform="rotate(-28 1430 600)" filter="url(#b22)"/><ellipse cx="1430" cy="600" rx="195" ry="112" fill="#242424" transform="rotate(-28 1430 600)" filter="url(#b14)"/><path d="M175 270C190.8 244.2 230.8 245.8 260 245C289.2 244.2 318.3 253.8 350 265C381.7 276.2 415 291.5 450 312C485 332.5 518.3 362.3 560 388C601.7 413.7 646.7 445.3 700 466C753.3 486.7 823.3 498.8 880 512C936.7 525.2 1040 525 1040 545C1040 565 925 610.3 880 632C835 653.7 807.5 650.3 770 675C732.5 699.7 686.7 740 655 780C623.3 820 602.5 867.5 580 915C557.5 962.5 541.7 1027.5 520 1065C498.3 1102.5 481.7 1127.5 450 1140C418.3 1152.5 359.7 1162.5 330 1140C300.3 1117.5 288.3 1052.5 272 1005C255.7 957.5 247 905 232 855C217 805 195.7 754.2 182 705C168.3 655.8 152.8 610.8 150 560C147.2 509.2 160.8 448.3 165 400C169.2 351.7 159.2 295.8 175 270Z" fill="#1a1a1a" filter="url(#b12)"/><path d="M200 285C211.7 263 235 267.5 260 268C285 268.5 318.3 276.8 350 288C381.7 299.2 415 314.7 450 335C485 355.3 518.3 384.2 560 410C601.7 435.8 646.7 469.7 700 490C753.3 510.3 829.2 522.3 880 532C930.8 541.7 1005 535.3 1005 548C1005 560.7 920.8 591 880 608C839.2 625 800 624.7 760 650C720 675.3 673.3 718.3 640 760C606.7 801.7 583.3 851.7 560 900C536.7 948.3 520 1013.7 500 1050C480 1086.3 466.7 1106.7 440 1118C413.3 1129.3 364.7 1137.7 340 1118C315.3 1098.3 306.7 1044.7 292 1000C277.3 955.3 267 900 252 850C237 800 215.3 748.3 202 700C188.7 651.7 174 610 172 560C170 510 185.3 445.8 190 400C194.7 354.2 188.3 307 200 285Z" fill="#575757" filter="url(#b7)"/><ellipse cx="1445" cy="592" rx="160" ry="76" fill="#575757" transform="rotate(-28 1445 592)" filter="url(#b6)"/><path d="M290 560C286.7 520 301.7 481.7 320 460C338.3 438.3 373.3 426.7 400 430C426.7 433.3 463.3 455 480 480C496.7 505 501.7 543.3 500 580C498.3 616.7 478.3 646.7 470 700C461.7 753.3 461.7 850 450 900C438.3 950 416.7 1000 400 1000C383.3 1000 360 950 350 900C340 850 350 756.7 340 700C330 643.3 293.3 600 290 560Z" fill="#6b6b6b" filter="url(#b22)"/><path d="M305 560C301.5 525.8 320 501.3 335 485C350 468.7 374.2 459.5 395 462C415.8 464.5 445.8 480.3 460 500C474.2 519.7 482 548.3 480 580C478 611.7 456.7 650 448 690C439.3 730 436.3 791.7 428 820C419.7 848.3 408 860 398 860C388 860 375 848.3 368 820C361 791.7 366.5 733.3 356 690C345.5 646.7 308.5 594.2 305 560Z" fill="#808080" filter="url(#b12)"/><path d="M318 550C321.3 531.7 333 508.7 350 500C367 491.3 400.8 491.3 420 498C439.2 504.7 459.2 523 465 540C470.8 557 462.5 582.5 455 600C447.5 617.5 434.2 637 420 645C405.8 653 385 653.8 370 648C355 642.2 338.7 626.3 330 610C321.3 593.7 314.7 568.3 318 550Z" fill="#adadad" filter="url(#b7)"/><ellipse cx="382" cy="552" rx="46" ry="40" fill="#d9d9d9" filter="url(#b6)"/><ellipse cx="380" cy="543" rx="23" ry="15" fill="#ffffff" filter="url(#b5)"/></g></g></g>
<rect x="121.2" y="711.5" width="453" height="451.6" fill="none" stroke="#8a8a8a" stroke-width="1.3"/>
<rect x="108.4" y="1162" width="12.8" height="2.2"/>
<text x="87.3" y="1162.3" font-size="21" text-anchor="end">10</text>
<text x="100" y="1147.3" font-size="21" text-anchor="end">0</text>
<rect x="108.4" y="1079" width="12.8" height="2.2"/>
<text x="87.3" y="1092.6" font-size="21" text-anchor="end">10</text>
<text x="100" y="1077.6" font-size="21" text-anchor="end">1</text>
<rect x="108.4" y="996" width="12.8" height="2.2"/>
<text x="87.3" y="1009.6" font-size="21" text-anchor="end">10</text>
<text x="100" y="994.6" font-size="21" text-anchor="end">2</text>
<rect x="108.4" y="913" width="12.8" height="2.2"/>
<text x="87.3" y="926.6" font-size="21" text-anchor="end">10</text>
<text x="100" y="911.6" font-size="21" text-anchor="end">3</text>
<rect x="108.4" y="829.9" width="12.8" height="2.2"/>
<text x="87.3" y="843.5" font-size="21" text-anchor="end">10</text>
<text x="100" y="828.5" font-size="21" text-anchor="end">4</text>
<rect x="108.4" y="746.9" width="12.8" height="2.2"/>
<text x="87.3" y="760.5" font-size="21" text-anchor="end">10</text>
<text x="100" y="745.5" font-size="21" text-anchor="end">5</text>
<rect x="146.6" y="1163.1" width="5.2" height="13.8"/>
<text x="141" y="1207.5" font-size="21">-</text>
<text x="148.3" y="1207.5" font-size="21">10</text>
<text x="172.7" y="1192.9" font-size="21">3</text>
<path d="M212.9 1163.1H234.4v13.5h-4.6v-4.5h-3.2v4.5h-5.6v-4.5h-3.2v4.5H212.9z"/>
<text x="224.7" y="1207.5" font-size="21">0</text>
<rect x="296" y="1163.1" width="5.2" height="13.8"/>
<text x="295" y="1207.5" font-size="21">10</text>
<text x="319.4" y="1192.9" font-size="21">3</text>
<rect x="419.5" y="1163.1" width="5.2" height="13.8"/>
<text x="418.5" y="1207.5" font-size="21">10</text>
<text x="442.9" y="1192.9" font-size="21">4</text>
<rect x="527.7" y="1163.1" width="5.2" height="13.8"/>
<text x="526.7" y="1207.5" font-size="21">10</text>
<text x="551.1" y="1192.9" font-size="21">5</text>
<rect x="178.6" y="1163.1" width="4" height="10"/>
<rect x="262.5" y="1163.1" width="4" height="10"/>
<rect x="386.1" y="1163.1" width="4" height="10"/>
<rect x="496.4" y="1163.1" width="4" height="10"/>
<path d="M115 1138.1h6.2M112.4 1123.5h8.8M112.4 1113.1h8.8M112.4 1105.1h8.8M112.4 1098.5h8.8M112.4 1092.9h8.8M112.4 1088.1h8.8M112.4 1083.9h8.8M115 1055.1h6.2M112.4 1040.5h8.8M112.4 1030.1h8.8M112.4 1022.1h8.8M112.4 1015.5h8.8M112.4 1009.9h8.8M112.4 1005.1h8.8M112.4 1000.9h8.8M115 972.1h6.2M112.4 957.5h8.8M112.4 947.1h8.8M112.4 939h8.8M112.4 932.5h8.8M112.4 926.9h8.8M112.4 922.1h8.8M112.4 917.9h8.8M115 889.1h6.2M112.4 874.4h8.8M112.4 864.1h8.8M112.4 856h8.8M112.4 849.5h8.8M112.4 843.9h8.8M112.4 839.1h8.8M112.4 834.8h8.8M115 806.1h6.2M112.4 791.4h8.8M112.4 781.1h8.8M112.4 773h8.8M112.4 766.4h8.8M112.4 760.9h8.8M112.4 756.1h8.8M112.4 751.8h8.8M115 723h6.2M156.9 1163.1v6.6M163.3 1163.1v6.6M169.2 1163.1v6.6M174.3 1163.1v6.6M188.6 1163.1v6.6M194.9 1163.1v6.6M200.4 1163.1v6.6M206.2 1163.1v6.6M241 1163.1v6.6M249 1163.1v6.6M257 1163.1v6.6M271.7 1163.1v6.6M278.5 1163.1v6.6M285.3 1163.1v6.6M290.4 1163.1v6.6M337.5 1163.1v6.6M360 1163.1v6.6M376.2 1163.1v6.6M397.3 1163.1v6.6M405.8 1163.1v6.6M412.8 1163.1v6.6M455.9 1163.1v6.6M475 1163.1v6.6M488.7 1163.1v6.6M506 1163.1v6.6M512.6 1163.1v6.6M518.9 1163.1v6.6M523.8 1163.1v6.6M560.2 1163.1v6.6" stroke="#000" stroke-width="1.5" fill="none"/>
<text x="346.5" y="1249.7" font-size="24" text-anchor="middle" letter-spacing=".8">CD45-APC-Cy7</text>
<text transform="translate(21.9 937.3) rotate(-90)" font-size="24" text-anchor="middle" letter-spacing=".8">SSC-H</text>
<path d="M451.1 789.5L422 789.5L422 937.5L541.2 937.5L541.2 789.5L529.3 789.5" fill="none" stroke="#000" stroke-width="1.6" stroke-linejoin="miter"/><text x="490.8" y="749.3" font-size="24.3" text-anchor="middle" letter-spacing=".35">CD45+</text><text x="490.8" y="778.8" font-size="24.3" text-anchor="middle" letter-spacing=".35">0.48</text>
</g>
<g id="panel6">
<filter id="d6" filterUnits="userSpaceOnUse" x="708.8" y="709.2" width="454.7" height="453.1" color-interpolation-filters="sRGB"><feTurbulence type="fractalNoise" baseFrequency="0.4" numOctaves="1" seed="8" result="t"/><feColorMatrix in="t" type="matrix" values="0 0 0 0 0 0 0 0 0 0 0 0 0 0 0 1 0 0 0 0" result="na"/><feColorMatrix in="SourceGraphic" type="matrix" values="0 0 0 0 0 0 0 0 0 0 0 0 0 0 0 1 0 0 0 0"/><feComponentTransfer result="da"><feFuncA type="table" tableValues="0 0.08 0.16 0.24 0.3 0.35 0.39 0.43 0.46 0.49 0.52 0.55 0.58 0.6 0.62 0.64 0.66 0.68 0.7 0.72 0.74"/></feComponentTransfer><feComposite in="da" in2="na" operator="arithmetic" k1="0" k2="1" k3="1" k4="-0.36"/><feComponentTransfer result="m"><feFuncA type="discrete" tableValues="0 1"/></feComponentTransfer><feColorMatrix in="t" type="matrix" values="0 1 0 0 0 0 1 0 0 0 0 1 0 0 0 0 0 0 0 1" result="ng"/><feComposite in="SourceGraphic" in2="ng" operator="arithmetic" k1="0" k2="1" k3="1.3" k4="-0.65"/><feComponentTransfer result="col"><feFuncR type="table" tableValues="0.28 0.28 0.28 0.28 0.28 0.28 0.28 0.28 0.29 0.36 0.5 0.53 0.49 0.43 0.43 0.5 0.76 0.98 0.98 0.92 0.88"/><feFuncG type="table" tableValues="0.33 0.33 0.33 0.33 0.33 0.33 0.33 0.34 0.44 0.65 0.83 0.89 0.85 0.79 0.78 0.8 0.86 0.89 0.67 0.35 0.2"/><feFuncB type="table" tableValues="0.7 0.7 0.7 0.7 0.7 0.7 0.7 0.71 0.78 0.89 0.94 0.86 0.51 0.06 0.02 0.02 0.04 0.08 0.06 0.08 0.08"/></feComponentTransfer><feComposite in="col" in2="m" operator="in"/></filter><g filter="url(#d6)"><rect x="688.8" y="689.2" width="494.7" height="493.1" fill="#000"/><g clip-path="url(#c6)"><g transform="translate(709 710) scale(0.24835)"><ellipse cx="860" cy="610" rx="520" ry="240" fill="#0f0f0f" transform="rotate(-6 860 610)" filter="url(#b30)"/><ellipse cx="890" cy="592" rx="450" ry="165" fill="#242424" transform="rotate(-8 890 592)" filter="url(#b22)"/><ellipse cx="900" cy="588" rx="380" ry="125" fill="#474747" transform="rotate(-8 900 588)" filter="url(#b20)"/><ellipse cx="915" cy="588" rx="310" ry="92" fill="#737373" transform="rotate(-6 915 588)" filter="url(#b18)"/><ellipse cx="930" cy="590" rx="240" ry="64" fill="#9e9e9e" transform="rotate(-4 930 590)" filter="url(#b16)"/><ellipse cx="945" cy="592" rx="160" ry="40" fill="#c2c2c2" transform="rotate(-3 945 592)" filter="url(#b14)"/><ellipse cx="955" cy="592" rx="75" ry="22" fill="#e0e0e0" filter="url(#b10)"/></g></g></g>
<rect x="708.8" y="709.2" width="454.7" height="453.1" fill="none" stroke="#8a8a8a" stroke-width="1.3"/>
<rect x="696" y="1161.2" width="12.8" height="2.2"/>
<text x="674.9" y="1161.5" font-size="21" text-anchor="end">10</text>
<text x="687.6" y="1146.5" font-size="21" text-anchor="end">0</text>
<rect x="696" y="1077.9" width="12.8" height="2.2"/>
<text x="674.9" y="1091.5" font-size="21" text-anchor="end">10</text>
<text x="687.6" y="1076.5" font-size="21" text-anchor="end">1</text>
<rect x="696" y="994.6" width="12.8" height="2.2"/>
<text x="674.9" y="1008.2" font-size="21" text-anchor="end">10</text>
<text x="687.6" y="993.2" font-size="21" text-anchor="end">2</text>
<rect x="696" y="911.3" width="12.8" height="2.2"/>
<text x="674.9" y="924.9" font-size="21" text-anchor="end">10</text>
<text x="687.6" y="909.9" font-size="21" text-anchor="end">3</text>
<rect x="696" y="828" width="12.8" height="2.2"/>
<text x="674.9" y="841.6" font-size="21" text-anchor="end">10</text>
<text x="687.6" y="826.6" font-size="21" text-anchor="end">4</text>
<rect x="696" y="744.7" width="12.8" height="2.2"/>
<text x="674.9" y="758.3" font-size="21" text-anchor="end">10</text>
<text x="687.6" y="743.3" font-size="21" text-anchor="end">5</text>
<rect x="734.3" y="1162.3" width="5.2" height="13.8"/>
<text x="728.7" y="1206.7" font-size="21">-</text>
<text x="736" y="1206.7" font-size="21">10</text>
<text x="760.4" y="1192.1" font-size="21">3</text>
<path d="M800.8 1162.3H822.5v13.5h-4.6v-4.5h-3.2v4.5h-5.6v-4.5h-3.2v4.5H800.8z"/>
<text x="812.7" y="1206.7" font-size="21">0</text>
<rect x="884.3" y="1162.3" width="5.2" height="13.8"/>
<text x="883.3" y="1206.7" font-size="21">10</text>
<text x="907.7" y="1192.1" font-size="21">3</text>
<rect x="1008.2" y="1162.3" width="5.2" height="13.8"/>
<text x="1007.2" y="1206.7" font-size="21">10</text>
<text x="1031.6" y="1192.1" font-size="21">4</text>
<rect x="1116.8" y="1162.3" width="5.2" height="13.8"/>
<text x="1115.8" y="1206.7" font-size="21">10</text>
<text x="1140.2" y="1192.1" font-size="21">5</text>
<rect x="766.5" y="1162.3" width="4" height="10"/>
<rect x="850.7" y="1162.3" width="4" height="10"/>
<rect x="974.7" y="1162.3" width="4" height="10"/>
<rect x="1085.4" y="1162.3" width="4" height="10"/>
<path d="M702.6 1137.2h6.2M700 1122.6h8.8M700 1112.2h8.8M700 1104.1h8.8M700 1097.5h8.8M700 1091.9h8.8M700 1087.1h8.8M700 1082.8h8.8M702.6 1053.9h6.2M700 1039.3h8.8M700 1028.9h8.8M700 1020.8h8.8M700 1014.2h8.8M700 1008.6h8.8M700 1003.8h8.8M700 999.5h8.8M702.6 970.6h6.2M700 956h8.8M700 945.6h8.8M700 937.5h8.8M700 930.9h8.8M700 925.3h8.8M700 920.5h8.8M700 916.2h8.8M702.6 887.4h6.2M700 872.7h8.8M700 862.3h8.8M700 854.2h8.8M700 847.6h8.8M700 842h8.8M700 837.2h8.8M700 832.9h8.8M702.6 804.1h6.2M700 789.4h8.8M700 779h8.8M700 770.9h8.8M700 764.3h8.8M700 758.7h8.8M700 753.9h8.8M700 749.7h8.8M702.6 720.8h6.2M744.6 1162.3v6.6M751.1 1162.3v6.6M757 1162.3v6.6M762.1 1162.3v6.6M776.5 1162.3v6.6M782.7 1162.3v6.6M788.3 1162.3v6.6M794.1 1162.3v6.6M829 1162.3v6.6M837.1 1162.3v6.6M845.1 1162.3v6.6M859.9 1162.3v6.6M866.7 1162.3v6.6M873.5 1162.3v6.6M878.6 1162.3v6.6M925.9 1162.3v6.6M948.5 1162.3v6.6M964.7 1162.3v6.6M985.9 1162.3v6.6M994.5 1162.3v6.6M1001.5 1162.3v6.6M1044.8 1162.3v6.6M1063.9 1162.3v6.6M1077.7 1162.3v6.6M1095.1 1162.3v6.6M1101.6 1162.3v6.6M1108 1162.3v6.6M1112.9 1162.3v6.6M1149.4 1162.3v6.6" stroke="#000" stroke-width="1.5" fill="none"/>
<text x="934.9" y="1248.9" font-size="24" text-anchor="middle" letter-spacing=".8">GAM-AlexaFluor647</text>
<text transform="translate(609.5 935.8) rotate(-90)" font-size="24" text-anchor="middle" letter-spacing=".8">SSC-A</text>
<path d="M1064.1 779.5L899 779.5L899 903.2L1124.2 903.2L1124.2 790.7" fill="none" stroke="#000" stroke-width="1.6" stroke-linejoin="miter"/><text x="1097.7" y="747.3" font-size="24.3" text-anchor="middle" letter-spacing=".35">CAR+</text><text x="1095.7" y="776.8" font-size="24.3" text-anchor="middle" letter-spacing=".35">83.3</text>
</g>
<g id="panel7">
<filter id="d7" filterUnits="userSpaceOnUse" x="1293.8" y="713" width="452" height="451.6" color-interpolation-filters="sRGB"><feTurbulence type="fractalNoise" baseFrequency="0.45" numOctaves="1" seed="9" result="t"/><feColorMatrix in="t" type="matrix" values="0 0 0 0 0 0 0 0 0 0 0 0 0 0 0 1 0 0 0 0" result="na"/><feColorMatrix in="SourceGraphic" type="matrix" values="0 0 0 0 0 0 0 0 0 0 0 0 0 0 0 1 0 0 0 0"/><feComponentTransfer result="da"><feFuncA type="table" tableValues="0 0.08 0.16 0.24 0.3 0.34 0.37 0.39 0.41 0.42 0.44 0.45 0.46 0.47 0.48 0.49 0.5 0.51 0.52 0.53 0.54"/></feComponentTransfer><feComposite in="da" in2="na" operator="arithmetic" k1="0" k2="1" k3="1" k4="-0.36"/><feComponentTransfer result="m"><feFuncA type="discrete" tableValues="0 1"/></feComponentTransfer><feColorMatrix in="t" type="matrix" values="0 1 0 0 0 0 1 0 0 0 0 1 0 0 0 0 0 0 0 1" result="ng"/><feComposite in="SourceGraphic" in2="ng" operator="arithmetic" k1="0" k2="1" k3="1.5" k4="-0.75"/><feComponentTransfer result="col"><feFuncR type="table" tableValues="0.28 0.28 0.28 0.28 0.28 0.28 0.28 0.28 0.29 0.36 0.5 0.53 0.49 0.43 0.43 0.5 0.76 0.98 0.98 0.92 0.88"/><feFuncG type="table" tableValues="0.33 0.33 0.33 0.33 0.33 0.33 0.33 0.34 0.44 0.65 0.83 0.89 0.85 0.79 0.78 0.8 0.86 0.89 0.67 0.35 0.2"/><feFuncB type="table" tableValues="0.7 0.7 0.7 0.7 0.7 0.7 0.7 0.71 0.78 0.89 0.94 0.86 0.51 0.06 0.02 0.02 0.04 0.08 0.06 0.08 0.08"/></feComponentTransfer><feComposite in="col" in2="m" operator="in"/></filter><g filter="url(#d7)"><rect x="1273.8" y="693" width="492" height="491.6" fill="#000"/><g clip-path="url(#c7)"><g transform="translate(1294 713) scale(0.24835)"><ellipse cx="690" cy="980" rx="450" ry="480" fill="#0f0f0f" filter="url(#b40)"/><path d="M340 900C353.3 816.7 376.7 746.7 420 700C463.3 653.3 528.3 630 600 620C671.7 610 783.3 616.7 850 640C916.7 663.3 971.7 708.3 1000 760C1028.3 811.7 1028.3 885 1020 950C1011.7 1015 986.7 1086.7 950 1150C913.3 1213.3 858.3 1285 800 1330C741.7 1375 666.7 1408.3 600 1420C533.3 1431.7 443.3 1436.7 400 1400C356.7 1363.3 350 1283.3 340 1200C330 1116.7 326.7 983.3 340 900Z" fill="#1f1f1f" filter="url(#b30)"/><path d="M360 950C371.7 885 390 801.7 430 760C470 718.3 538.3 706.7 600 700C661.7 693.3 746.7 700 800 720C853.3 740 900 773.3 920 820C940 866.7 931.7 945 920 1000C908.3 1055 883.3 1103.3 850 1150C816.7 1196.7 768.3 1245 720 1280C671.7 1315 613.3 1348.3 560 1360C506.7 1371.7 433.3 1385 400 1350C366.7 1315 366.7 1216.7 360 1150C353.3 1083.3 348.3 1015 360 950Z" fill="#383838" filter="url(#b26)"/><path d="M370 1000C375 936.7 395 856.7 420 820C445 783.3 483.3 773.3 520 780C556.7 786.7 616.7 815 640 860C663.3 905 666.7 985 660 1050C653.3 1115 630 1208.3 600 1250C570 1291.7 515 1308.3 480 1300C445 1291.7 408.3 1250 390 1200C371.7 1150 365 1063.3 370 1000Z" fill="#5c5c5c" filter="url(#b22)"/><ellipse cx="480" cy="1010" rx="95" ry="210" fill="#8c8c8c" transform="rotate(3 480 1010)" filter="url(#b18)"/><ellipse cx="455" cy="990" rx="58" ry="150" fill="#b8b8b8" transform="rotate(5 455 990)" filter="url(#b14)"/><ellipse cx="450" cy="970" rx="30" ry="90" fill="#d1d1d1" transform="rotate(5 450 970)" filter="url(#b10)"/></g></g></g>
<rect x="1293.8" y="713" width="452" height="451.6" fill="none" stroke="#8a8a8a" stroke-width="1.3"/>
<rect x="1281" y="1134.2" width="12.8" height="2.2"/>
<text x="1259.9" y="1147.8" font-size="21" text-anchor="end">10</text>
<text x="1235.3" y="1147.8" font-size="21" text-anchor="end">-</text>
<text x="1272.6" y="1132.8" font-size="21" text-anchor="end">3</text>
<rect x="1281.3" y="1051.5" width="12.5" height="19"/>
<text x="1260.3" y="1068.8" font-size="21" text-anchor="end">0</text>
<rect x="1281" y="985.3" width="12.8" height="2.2"/>
<text x="1259.9" y="998.9" font-size="21" text-anchor="end">10</text>
<text x="1272.6" y="983.9" font-size="21" text-anchor="end">3</text>
<rect x="1281" y="862.2" width="12.8" height="2.2"/>
<text x="1259.9" y="875.8" font-size="21" text-anchor="end">10</text>
<text x="1272.6" y="860.8" font-size="21" text-anchor="end">4</text>
<rect x="1281" y="754.3" width="12.8" height="2.2"/>
<text x="1259.9" y="767.9" font-size="21" text-anchor="end">10</text>
<text x="1272.6" y="752.9" font-size="21" text-anchor="end">5</text>
<rect x="1319.1" y="1164.6" width="5.2" height="13.8"/>
<text x="1313.5" y="1209" font-size="21">-</text>
<text x="1320.8" y="1209" font-size="21">10</text>
<text x="1345.2" y="1194.4" font-size="21">3</text>
<path d="M1385.3 1164.6H1406.8v13.5h-4.6v-4.5h-3.2v4.5h-5.6v-4.5h-3.2v4.5H1385.3z"/>
<text x="1397.1" y="1209" font-size="21">0</text>
<rect x="1468.2" y="1164.6" width="5.2" height="13.8"/>
<text x="1467.2" y="1209" font-size="21">10</text>
<text x="1491.6" y="1194.4" font-size="21">3</text>
<rect x="1591.4" y="1164.6" width="5.2" height="13.8"/>
<text x="1590.4" y="1209" font-size="21">10</text>
<text x="1614.8" y="1194.4" font-size="21">4</text>
<rect x="1699.4" y="1164.6" width="5.2" height="13.8"/>
<text x="1698.4" y="1209" font-size="21">10</text>
<text x="1722.8" y="1194.4" font-size="21">5</text>
<rect x="1351.1" y="1164.6" width="4" height="10"/>
<rect x="1434.8" y="1164.6" width="4" height="10"/>
<rect x="1558.1" y="1164.6" width="4" height="10"/>
<rect x="1668.2" y="1164.6" width="4" height="10"/>
<path d="M1286 1104h7.8M1286 1020.3h7.8M1286 897.1h7.8M1286 787.1h7.8M1286 1127.6h7.8M1286 1121.2h7.8M1286 1115.3h7.8M1286 1110.2h7.8M1286 1096h7.8M1286 1089.8h7.8M1286 1084.3h7.8M1286 1078.5h7.8M1286 1043.8h7.8M1286 1035.8h7.8M1286 1027.8h7.8M1286 1013.1h7.8M1286 1006.3h7.8M1286 999.6h7.8M1286 994.5h7.8M1289.2 947.6h4.6M1289.2 925.1h4.6M1289.2 909h4.6M1286 887.9h7.8M1286 879.5h7.8M1286 872.5h7.8M1289.2 829.5h4.6M1289.2 810.5h4.6M1289.2 796.8h4.6M1286 779.5h7.8M1286 773h7.8M1286 766.8h7.8M1286 761.9h7.8M1289.2 725.6h4.6M1329.4 1164.6v6.6M1335.8 1164.6v6.6M1341.7 1164.6v6.6M1346.8 1164.6v6.6M1361.1 1164.6v6.6M1367.3 1164.6v6.6M1372.8 1164.6v6.6M1378.6 1164.6v6.6M1413.3 1164.6v6.6M1421.3 1164.6v6.6M1429.3 1164.6v6.6M1444 1164.6v6.6M1450.8 1164.6v6.6M1457.5 1164.6v6.6M1462.6 1164.6v6.6M1509.6 1164.6v6.6M1532.1 1164.6v6.6M1548.2 1164.6v6.6M1569.3 1164.6v6.6M1577.8 1164.6v6.6M1584.8 1164.6v6.6M1627.8 1164.6v6.6M1646.8 1164.6v6.6M1660.5 1164.6v6.6M1677.8 1164.6v6.6M1684.3 1164.6v6.6M1690.6 1164.6v6.6M1695.5 1164.6v6.6M1731.8 1164.6v6.6" stroke="#000" stroke-width="1.5" fill="none"/>
<text x="1518.6" y="1251.2" font-size="24" text-anchor="middle" letter-spacing=".8">TIM3-BV785</text>
<text transform="translate(1194.5 938.8) rotate(-90)" font-size="24" text-anchor="middle" letter-spacing=".8">PD1-BV480</text>
<path d="M1451 710V1173" stroke="#000" stroke-width="2.4" fill="none" clip-path="url(#c7)"/><path d="M1291 1001.1H1754" stroke="#000" stroke-width="2" fill="none" clip-path="url(#c7)"/><text x="1301.2" y="750.3" font-size="24.3" text-anchor="start" letter-spacing=".35">Q5</text><text x="1301.2" y="780.6" font-size="24.3" text-anchor="start" letter-spacing=".35">54.0</text><text x="1707.3" y="750.3" font-size="24.3" text-anchor="end" letter-spacing=".35">Q6</text><text x="1707.3" y="780.6" font-size="24.3" text-anchor="end" letter-spacing=".35">25.4</text><text x="1301.2" y="1109.9" font-size="24.3" text-anchor="start" letter-spacing=".35">Q8</text><text x="1301.2" y="1140.7" font-size="24.3" text-anchor="start" letter-spacing=".35">15.6</text><text x="1707.3" y="1109.9" font-size="24.3" text-anchor="end" letter-spacing=".35">Q7</text><text x="1707.3" y="1140.7" font-size="24.3" text-anchor="end" letter-spacing=".35">5.01</text>
</g>
<g id="panel8">
<filter id="d8" filterUnits="userSpaceOnUse" x="1879.7" y="709.7" width="454.8" height="454.6" color-interpolation-filters="sRGB"><feTurbulence type="fractalNoise" baseFrequency="0.68" numOctaves="1" seed="10" result="t"/><feColorMatrix in="t" type="matrix" values="0 0 0 0 0 0 0 0 0 0 0 0 0 0 0 1 0 0 0 0" result="na"/><feColorMatrix in="SourceGraphic" type="matrix" values="0 0 0 0 0 0 0 0 0 0 0 0 0 0 0 1 0 0 0 0"/><feComponentTransfer result="da"><feFuncA type="table" tableValues="0 0.07 0.14 0.2 0.25 0.29 0.31 0.33 0.34 0.35 0.36 0.37 0.38 0.38 0.39 0.39 0.4 0.4 0.41 0.41 0.42"/></feComponentTransfer><feComposite in="da" in2="na" operator="arithmetic" k1="0" k2="1" k3="1" k4="-0.36"/><feComponentTransfer result="m"><feFuncA type="discrete" tableValues="0 1"/></feComponentTransfer><feColorMatrix in="t" type="matrix" values="0 1 0 0 0 0 1 0 0 0 0 1 0 0 0 0 0 0 0 1" result="ng"/><feComposite in="SourceGraphic" in2="ng" operator="arithmetic" k1="0" k2="1" k3="3.0" k4="-1.5"/><feComponentTransfer result="col"><feFuncR type="table" tableValues="0.28 0.28 0.28 0.28 0.28 0.28 0.28 0.28 0.29 0.36 0.5 0.53 0.49 0.43 0.43 0.5 0.76 0.98 0.98 0.92 0.88"/><feFuncG type="table" tableValues="0.33 0.33 0.33 0.33 0.33 0.33 0.33 0.34 0.44 0.65 0.83 0.89 0.85 0.79 0.78 0.8 0.86 0.89 0.67 0.35 0.2"/><feFuncB type="table" tableValues="0.7 0.7 0.7 0.7 0.7 0.7 0.7 0.71 0.78 0.89 0.94 0.86 0.51 0.06 0.02 0.02 0.04 0.08 0.06 0.08 0.08"/></feComponentTransfer><feComposite in="col" in2="m" operator="in"/></filter><g filter="url(#d8)"><rect x="1859.7" y="689.7" width="494.8" height="494.6" fill="#000"/><g clip-path="url(#c8)"><g transform="translate(1880 710) scale(0.24835)"><path d="M380 1000C396.7 856.7 410 713.3 480 620C550 526.7 663.3 493.3 800 440C936.7 386.7 1223.3 256.7 1300 300C1376.7 343.3 1276.7 550 1260 700C1243.3 850 1230 1063.3 1200 1200C1170 1336.7 1163.3 1450 1080 1520C996.7 1590 816.7 1626.7 700 1620C583.3 1613.3 433.3 1583.3 380 1480C326.7 1376.7 363.3 1143.3 380 1000Z" fill="#0f0f0f" filter="url(#b40)"/><path d="M400 1000C416.7 873.3 433.3 758.3 500 680C566.7 601.7 683.3 570 800 530C916.7 490 1131.7 411.7 1200 440C1268.3 468.3 1216.7 581.7 1210 700C1203.3 818.3 1186.7 1021.7 1160 1150C1133.3 1278.3 1126.7 1401.7 1050 1470C973.3 1538.3 808.3 1565 700 1560C591.7 1555 450 1533.3 400 1440C350 1346.7 383.3 1126.7 400 1000Z" fill="#1f1f1f" filter="url(#b30)"/><path d="M450 1000C468.3 900 501.7 838.3 560 780C618.3 721.7 713.3 680 800 650C886.7 620 1030 575 1080 600C1130 625 1100 708.3 1100 800C1100 891.7 1100 1050 1080 1150C1060 1250 1043.3 1345 980 1400C916.7 1455 788.3 1483.3 700 1480C611.7 1476.7 491.7 1460 450 1380C408.3 1300 431.7 1100 450 1000Z" fill="#383838" filter="url(#b26)"/><path d="M560 1000C575 925 601.7 890 650 850C698.3 810 791.7 768.3 850 760C908.3 751.7 968.3 760 1000 800C1031.7 840 1040 925 1040 1000C1040 1075 1023.3 1183.3 1000 1250C976.7 1316.7 950 1368.3 900 1400C850 1431.7 756.7 1456.7 700 1440C643.3 1423.3 583.3 1373.3 560 1300C536.7 1226.7 545 1075 560 1000Z" fill="#575757" filter="url(#b24)"/><ellipse cx="820" cy="1180" rx="160" ry="260" fill="#757575" transform="rotate(-10 820 1180)" filter="url(#b24)"/></g></g></g>
<rect x="1879.7" y="709.7" width="454.8" height="454.6" fill="none" stroke="#8a8a8a" stroke-width="1.3"/>
<rect x="1866.9" y="1133.7" width="12.8" height="2.2"/>
<text x="1845.8" y="1147.3" font-size="21" text-anchor="end">10</text>
<text x="1821.2" y="1147.3" font-size="21" text-anchor="end">-</text>
<text x="1858.5" y="1132.3" font-size="21" text-anchor="end">3</text>
<rect x="1867.2" y="1050.5" width="12.5" height="19"/>
<text x="1846.2" y="1067.8" font-size="21" text-anchor="end">0</text>
<rect x="1866.9" y="983.8" width="12.8" height="2.2"/>
<text x="1845.8" y="997.4" font-size="21" text-anchor="end">10</text>
<text x="1858.5" y="982.4" font-size="21" text-anchor="end">3</text>
<rect x="1866.9" y="859.9" width="12.8" height="2.2"/>
<text x="1845.8" y="873.5" font-size="21" text-anchor="end">10</text>
<text x="1858.5" y="858.5" font-size="21" text-anchor="end">4</text>
<rect x="1866.9" y="751.3" width="12.8" height="2.2"/>
<text x="1845.8" y="764.9" font-size="21" text-anchor="end">10</text>
<text x="1858.5" y="749.9" font-size="21" text-anchor="end">5</text>
<rect x="1905.2" y="1164.3" width="5.2" height="13.8"/>
<text x="1899.6" y="1208.7" font-size="21">-</text>
<text x="1906.9" y="1208.7" font-size="21">10</text>
<text x="1931.3" y="1194.1" font-size="21">3</text>
<path d="M1971.8 1164.3H1993.4v13.5h-4.6v-4.5h-3.2v4.5h-5.6v-4.5h-3.2v4.5H1971.8z"/>
<text x="1983.6" y="1208.7" font-size="21">0</text>
<rect x="2055.2" y="1164.3" width="5.2" height="13.8"/>
<text x="2054.2" y="1208.7" font-size="21">10</text>
<text x="2078.6" y="1194.1" font-size="21">3</text>
<rect x="2179.2" y="1164.3" width="5.2" height="13.8"/>
<text x="2178.2" y="1208.7" font-size="21">10</text>
<text x="2202.6" y="1194.1" font-size="21">4</text>
<rect x="2287.8" y="1164.3" width="5.2" height="13.8"/>
<text x="2286.8" y="1208.7" font-size="21">10</text>
<text x="2311.2" y="1194.1" font-size="21">5</text>
<rect x="1937.4" y="1164.3" width="4" height="10"/>
<rect x="2021.6" y="1164.3" width="4" height="10"/>
<rect x="2145.6" y="1164.3" width="4" height="10"/>
<rect x="2256.4" y="1164.3" width="4" height="10"/>
<path d="M1871.9 1103.3h7.8M1871.9 1019.1h7.8M1871.9 895.1h7.8M1871.9 784.3h7.8M1871.9 1127.1h7.8M1871.9 1120.7h7.8M1871.9 1114.7h7.8M1871.9 1109.6h7.8M1871.9 1095.2h7.8M1871.9 1089h7.8M1871.9 1083.4h7.8M1871.9 1077.6h7.8M1871.9 1042.7h7.8M1871.9 1034.7h7.8M1871.9 1026.6h7.8M1871.9 1011.8h7.8M1871.9 1005h7.8M1871.9 998.3h7.8M1871.9 993.1h7.8M1875.1 945.9h4.6M1875.1 923.2h4.6M1875.1 907h4.6M1871.9 885.8h7.8M1871.9 877.3h7.8M1871.9 870.2h7.8M1875.1 827h4.6M1875.1 807.9h4.6M1875.1 794.1h4.6M1871.9 776.7h7.8M1871.9 770.2h7.8M1871.9 763.8h7.8M1871.9 758.9h7.8M1875.1 722.4h4.6M1915.5 1164.3v6.6M1922 1164.3v6.6M1927.9 1164.3v6.6M1933 1164.3v6.6M1947.4 1164.3v6.6M1953.7 1164.3v6.6M1959.2 1164.3v6.6M1965 1164.3v6.6M1999.9 1164.3v6.6M2008 1164.3v6.6M2016 1164.3v6.6M2030.8 1164.3v6.6M2037.7 1164.3v6.6M2044.4 1164.3v6.6M2049.5 1164.3v6.6M2096.8 1164.3v6.6M2119.5 1164.3v6.6M2135.7 1164.3v6.6M2156.9 1164.3v6.6M2165.5 1164.3v6.6M2172.5 1164.3v6.6M2215.8 1164.3v6.6M2234.9 1164.3v6.6M2248.7 1164.3v6.6M2266.1 1164.3v6.6M2272.6 1164.3v6.6M2279 1164.3v6.6M2283.9 1164.3v6.6M2320.4 1164.3v6.6" stroke="#000" stroke-width="1.5" fill="none"/>
<text x="2105.9" y="1250.9" font-size="24" text-anchor="middle" letter-spacing=".8">PD1-BV480</text>
<text transform="translate(1780.4 937) rotate(-90)" font-size="24" text-anchor="middle" letter-spacing=".8">LAG3-PerCP-Cy5.5</text>
<path d="M2046.9 707V1170" stroke="#000" stroke-width="2.4" fill="none" clip-path="url(#c8)"/><path d="M1877 991.9H2340" stroke="#000" stroke-width="2" fill="none" clip-path="url(#c8)"/><text x="1887.2" y="747.3" font-size="24.3" text-anchor="start" letter-spacing=".35">Q11</text><text x="1887.2" y="777.6" font-size="24.3" text-anchor="start" letter-spacing=".35">10.2</text><text x="2295.7" y="747.3" font-size="24.3" text-anchor="end" letter-spacing=".35">Q10</text><text x="2295.7" y="777.6" font-size="24.3" text-anchor="end" letter-spacing=".35">47.4</text><text x="1887.2" y="1110.3" font-size="24.3" text-anchor="start" letter-spacing=".35">Q12</text><text x="1887.2" y="1139.6" font-size="24.3" text-anchor="start" letter-spacing=".35">10.7</text><text x="2295.7" y="1110.3" font-size="24.3" text-anchor="end" letter-spacing=".35">Q9</text><text x="2295.7" y="1139.6" font-size="24.3" text-anchor="end" letter-spacing=".35">31.7</text>
</g>
<g id="panel9">
<filter id="d9" filterUnits="userSpaceOnUse" x="120.8" y="1430" width="453" height="453" color-interpolation-filters="sRGB"><feTurbulence type="fractalNoise" baseFrequency="0.42" numOctaves="1" seed="11" result="t"/><feColorMatrix in="t" type="matrix" values="0 0 0 0 0 0 0 0 0 0 0 0 0 0 0 1 0 0 0 0" result="na"/><feColorMatrix in="SourceGraphic" type="matrix" values="0 0 0 0 0 0 0 0 0 0 0 0 0 0 0 1 0 0 0 0"/><feComponentTransfer result="da"><feFuncA type="table" tableValues="0 0.11 0.23 0.36 0.5 0.66 0.85 1 1 1 1 1 1 1 1 1 1 1 1 1 1"/></feComponentTransfer><feComposite in="da" in2="na" operator="arithmetic" k1="0" k2="1" k3="1" k4="-0.36"/><feComponentTransfer result="m"><feFuncA type="discrete" tableValues="0 1"/></feComponentTransfer><feColorMatrix in="t" type="matrix" values="0 1 0 0 0 0 1 0 0 0 0 1 0 0 0 0 0 0 0 1" result="ng"/><feComposite in="SourceGraphic" in2="ng" operator="arithmetic" k1="0" k2="1" k3="0.1" k4="-0.05"/><feComponentTransfer result="col"><feFuncR type="table" tableValues="0.28 0.28 0.28 0.28 0.28 0.28 0.28 0.28 0.29 0.36 0.5 0.53 0.49 0.43 0.43 0.5 0.76 0.98 0.98 0.92 0.88"/><feFuncG type="table" tableValues="0.33 0.33 0.33 0.33 0.33 0.33 0.33 0.34 0.44 0.65 0.83 0.89 0.85 0.79 0.78 0.8 0.86 0.89 0.67 0.35 0.2"/><feFuncB type="table" tableValues="0.7 0.7 0.7 0.7 0.7 0.7 0.7 0.71 0.78 0.89 0.94 0.86 0.51 0.06 0.02 0.02 0.04 0.08 0.06 0.08 0.08"/></feComponentTransfer><feComposite in="col" in2="m" operator="in"/></filter><g filter="url(#d9)"><rect x="100.8" y="1410" width="493" height="493" fill="#000"/><clipPath id="z9"><rect x="127.7" y="1428.5" width="450.3" height="459.5"/></clipPath><g clip-path="url(#z9)"><g clip-path="url(#c9)"><g transform="translate(121 1431) scale(0.24835)"><path d="M30 30L1830 -60L1830 260L30 340Z" fill="#121212" filter="url(#b30)"/><path d="M30 130L600 110L1830 60L1830 260L30 340Z" fill="#1a1a1a" filter="url(#b22)"/><path d="M30 225L600 195L1100 170L1830 140L1830 280L30 400Z" fill="#242424" filter="url(#b14)"/><path d="M1830 560L1400 660L840 775L500 965L170 1160L130 1300L120 1400L30 1400L30 400L1830 300Z" fill="#212121" filter="url(#b18)"/><path d="M25 1340L70 1340L60 1800L25 1800Z" fill="#1a1a1a" filter="url(#b10)"/><path d="M30 385L170 350L268 322L268 175L335 175L340 300L600 238L1100 210L1500 235L1700 215L1830 205L1830 528L1400 612L840 722L500 910L140 1118L100 1250L95 1330L30 1350Z" fill="#575757" filter="url(#b6)"/><path d="M175 202L268 202L268 318L175 318Z" fill="#575757" filter="url(#b3)"/><path d="M30 600C38.3 486.7 66.7 595 80 620C93.3 645 106.7 695 110 750C113.3 805 105.8 883.3 100 950C94.2 1016.7 84.2 1091.7 75 1150C65.8 1208.3 52.5 1275 45 1300C37.5 1325 32.5 1416.7 30 1300C27.5 1183.3 21.7 713.3 30 600Z" fill="#666666" filter="url(#b24)"/><path d="M90 700C93.3 641.7 123.3 530 150 480C176.7 430 208.3 411.7 250 400C291.7 388.3 363.3 393.3 400 410C436.7 426.7 458.3 460 470 500C481.7 540 478.3 603.3 470 650C461.7 696.7 448.3 748.3 420 780C391.7 811.7 348.3 831.7 300 840C251.7 848.3 165 853.3 130 830C95 806.7 86.7 758.3 90 700Z" fill="#6b6b6b" filter="url(#b30)"/><path d="M430 600C463.3 558.3 561.7 496.7 640 470C718.3 443.3 798.3 441.7 900 440C1001.7 438.3 1150 457.5 1250 460C1350 462.5 1403.3 464.2 1500 455C1596.7 445.8 1775 402.5 1830 405C1885 407.5 1901.7 447.5 1830 470C1758.3 492.5 1496.7 518.3 1400 540C1303.3 561.7 1333.3 575 1250 600C1166.7 625 1005 668.3 900 690C795 711.7 696.7 725 620 730C543.3 735 471.7 741.7 440 720C408.3 698.3 396.7 641.7 430 600Z" fill="#666666" filter="url(#b28)"/><path d="M105 725C110 672.8 140.8 545.5 165 495C189.2 444.5 216.7 432.5 250 422C283.3 411.5 335.3 415.7 365 432C394.7 448.3 417.5 483.7 428 520C438.5 556.3 435.2 609.2 428 650C420.8 690.8 409.7 737 385 765C360.3 793 321.7 810.8 280 818C238.3 825.2 164.2 823.5 135 808C105.8 792.5 100 777.2 105 725Z" fill="#878787" filter="url(#b15)"/><path d="M555 655C560 616.8 592.5 515.2 650 482C707.5 448.8 811.7 457.3 900 456C988.3 454.7 1088.3 472.3 1180 474C1271.7 475.7 1405 461.3 1450 466C1495 470.7 1483.3 484 1450 502C1416.7 520 1341.7 545.8 1250 574C1158.3 602.2 1005 648.2 900 671C795 693.8 677.5 713.7 620 711C562.5 708.3 550 693.2 555 655Z" fill="#878787" filter="url(#b14)"/><path d="M1450 485C1483.3 480 1591.7 462.5 1650 455C1708.3 447.5 1775 442.5 1800 440" fill="none" stroke="#808080" stroke-width="30" stroke-linecap="round" filter="url(#b10)"/><path d="M33 720C36.2 650 45.8 686.7 52 700C58.2 713.3 68.3 750 70 800C71.7 850 66.2 946.7 62 1000C57.8 1053.3 49.8 1100 45 1120C40.2 1140 35 1186.7 33 1120C31 1053.3 29.8 790 33 720Z" fill="#858585" filter="url(#b9)"/><path d="M33 790C35.5 754.2 44.5 760 48 775C51.5 790 54.7 845.8 54 880C53.3 914.2 47.5 961.7 44 980C40.5 998.3 34.8 1021.7 33 990C31.2 958.3 30.5 825.8 33 790Z" fill="#adadad" filter="url(#b6)"/><path d="M232 490C244.7 478 273.3 466.3 290 468C306.7 469.7 324 481.3 332 500C340 518.7 341.3 553.3 338 580C334.7 606.7 321.7 638 312 660C302.3 682 298.7 696.7 280 712C261.3 727.3 223.3 746.2 200 752C176.7 757.8 152.7 753 140 747C127.3 741 120.7 725.5 124 716C127.3 706.5 144 701 160 690C176 679 205.7 665 220 650C234.3 635 247 618.3 246 600C245 581.7 216.3 558.3 214 540C211.7 521.7 219.3 502 232 490Z" fill="#adadad" filter="url(#b9)"/><path d="M690 560C715.8 533 728.3 503.7 780 490C831.7 476.3 935.8 472.2 1000 478C1064.2 483.8 1165 508 1165 525C1165 542 1067.5 560.8 1000 580C932.5 599.2 822.5 628 760 640C697.5 652 636.7 665.3 625 652C613.3 638.7 664.2 587 690 560Z" fill="#adadad" filter="url(#b8)"/><path d="M735 575C738.3 557.5 765.8 518.7 800 505C834.2 491.3 909.2 489.7 940 493C970.8 496.3 991.7 512.5 985 525C978.3 537.5 934.2 553.8 900 568C865.8 582.2 807.5 608.8 780 610C752.5 611.2 731.7 592.5 735 575Z" fill="#d9d9d9" filter="url(#b9)"/><ellipse cx="832" cy="535" rx="62" ry="26" fill="#ffffff" transform="rotate(-8 832 535)" filter="url(#b8)"/><ellipse cx="215" cy="270" rx="18" ry="24" fill="#808080" filter="url(#b4)"/><ellipse cx="215" cy="276" rx="8" ry="14" fill="#adadad" filter="url(#b3)"/><path d="M1806 290L1830 290L1830 535L1806 535Z" fill="#adadad" filter="url(#b3)"/><path d="M1811 340L1830 340L1830 520L1811 520Z" fill="#d9d9d9" filter="url(#b3)"/><path d="M1814 400L1830 400L1830 500L1814 500Z" fill="#ffffff" filter="url(#b2)"/></g></g></g></g>
<rect x="120.8" y="1430" width="453" height="453" fill="none" stroke="#8a8a8a" stroke-width="1.3"/>
<rect x="108" y="1881.9" width="12.8" height="2.2"/>
<text x="86.9" y="1882.2" font-size="21" text-anchor="end">10</text>
<text x="99.6" y="1867.2" font-size="21" text-anchor="end">0</text>
<rect x="108" y="1798.6" width="12.8" height="2.2"/>
<text x="86.9" y="1812.2" font-size="21" text-anchor="end">10</text>
<text x="99.6" y="1797.2" font-size="21" text-anchor="end">1</text>
<rect x="108" y="1715.4" width="12.8" height="2.2"/>
<text x="86.9" y="1729" font-size="21" text-anchor="end">10</text>
<text x="99.6" y="1714" font-size="21" text-anchor="end">2</text>
<rect x="108" y="1632.1" width="12.8" height="2.2"/>
<text x="86.9" y="1645.7" font-size="21" text-anchor="end">10</text>
<text x="99.6" y="1630.7" font-size="21" text-anchor="end">3</text>
<rect x="108" y="1548.8" width="12.8" height="2.2"/>
<text x="86.9" y="1562.4" font-size="21" text-anchor="end">10</text>
<text x="99.6" y="1547.4" font-size="21" text-anchor="end">4</text>
<rect x="108" y="1465.5" width="12.8" height="2.2"/>
<text x="86.9" y="1479.1" font-size="21" text-anchor="end">10</text>
<text x="99.6" y="1464.1" font-size="21" text-anchor="end">5</text>
<rect x="119.8" y="1883" width="4.4" height="13.2"/>
<text x="125" y="1917.2" font-size="21" text-anchor="middle">0</text>
<rect x="206" y="1883" width="4.4" height="13.2"/>
<text x="208.2" y="1917.2" font-size="21" text-anchor="middle">50K</text>
<rect x="292.2" y="1883" width="4.4" height="13.2"/>
<text x="294.4" y="1917.2" font-size="21" text-anchor="middle">100K</text>
<rect x="378.4" y="1883" width="4.4" height="13.2"/>
<text x="380.6" y="1917.2" font-size="21" text-anchor="middle">150K</text>
<rect x="464.6" y="1883" width="4.4" height="13.2"/>
<text x="466.8" y="1917.2" font-size="21" text-anchor="middle">200K</text>
<rect x="550.9" y="1883" width="4.4" height="13.2"/>
<text x="574.4" y="1917.2" font-size="21" text-anchor="end">250K</text>
<path d="M114.6 1857.9h6.2M112 1843.3h8.8M112 1832.9h8.8M112 1824.8h8.8M112 1818.2h8.8M112 1812.6h8.8M112 1807.8h8.8M112 1803.5h8.8M114.6 1774.7h6.2M112 1760h8.8M112 1749.6h8.8M112 1741.5h8.8M112 1734.9h8.8M112 1729.4h8.8M112 1724.5h8.8M112 1720.3h8.8M114.6 1691.4h6.2M112 1676.7h8.8M112 1666.3h8.8M112 1658.3h8.8M112 1651.7h8.8M112 1646.1h8.8M112 1641.3h8.8M112 1637h8.8M114.6 1608.1h6.2M112 1593.5h8.8M112 1583h8.8M112 1575h8.8M112 1568.4h8.8M112 1562.8h8.8M112 1558h8.8M112 1553.7h8.8M114.6 1524.8h6.2M112 1510.2h8.8M112 1499.8h8.8M112 1491.7h8.8M112 1485.1h8.8M112 1479.5h8.8M112 1474.7h8.8M112 1470.5h8.8M114.6 1441.6h6.2M139.2 1883v6.6M156.5 1883v6.6M173.7 1883v6.6M191 1883v6.6M225.5 1883v6.6M242.7 1883v6.6M259.9 1883v6.6M277.2 1883v6.6M311.7 1883v6.6M328.9 1883v6.6M346.2 1883v6.6M363.4 1883v6.6M397.9 1883v6.6M415.1 1883v6.6M432.4 1883v6.6M449.6 1883v6.6M484.1 1883v6.6M501.3 1883v6.6M518.6 1883v6.6M535.8 1883v6.6M570.3 1883v6.6" stroke="#000" stroke-width="1.5" fill="none"/>
<text x="346.1" y="1969.6" font-size="24" text-anchor="middle" letter-spacing=".8">FSC-A</text>
<text transform="translate(21.5 1656.5) rotate(-90)" font-size="24" text-anchor="middle" letter-spacing=".8">SSC-A</text>
<rect x="204.7" y="1472" width="70.3" height="41" fill="#e9e8f8"/><path d="M129.7 1535.3L270 1493.6L394.2 1486.9L569.3 1501.8L569.3 1560.1L329.6 1609.8L155.8 1707.9L126 1765Z" fill="none" stroke="#000" stroke-width="1.6" stroke-linejoin="miter"/><rect x="164.5" y="1481.2" width="23.1" height="28.8" fill="none" stroke="#000" stroke-width="1.6"/><text x="239.7" y="1468" font-size="24.3" text-anchor="middle" letter-spacing=".35">Beads</text><text x="239.7" y="1498" font-size="24.3" text-anchor="middle" letter-spacing=".35">0.35</text><text x="369.4" y="1662" font-size="24.3" text-anchor="middle" letter-spacing=".35">Lymphocytes</text><text x="369.4" y="1692" font-size="24.3" text-anchor="middle" letter-spacing=".35">98.2</text>
</g>
<g id="panel10">
<filter id="d10" filterUnits="userSpaceOnUse" x="709.6" y="1431" width="450.8" height="450" color-interpolation-filters="sRGB"><feTurbulence type="fractalNoise" baseFrequency="0.42" numOctaves="1" seed="12" result="t"/><feColorMatrix in="t" type="matrix" values="0 0 0 0 0 0 0 0 0 0 0 0 0 0 0 1 0 0 0 0" result="na"/><feColorMatrix in="SourceGraphic" type="matrix" values="0 0 0 0 0 0 0 0 0 0 0 0 0 0 0 1 0 0 0 0"/><feComponentTransfer result="da"><feFuncA type="table" tableValues="0 0.11 0.23 0.36 0.5 0.66 0.85 1 1 1 1 1 1 1 1 1 1 1 1 1 1"/></feComponentTransfer><feComposite in="da" in2="na" operator="arithmetic" k1="0" k2="1" k3="1" k4="-0.36"/><feComponentTransfer result="m"><feFuncA type="discrete" tableValues="0 1"/></feComponentTransfer><feColorMatrix in="t" type="matrix" values="0 1 0 0 0 0 1 0 0 0 0 1 0 0 0 0 0 0 0 1" result="ng"/><feComposite in="SourceGraphic" in2="ng" operator="arithmetic" k1="0" k2="1" k3="0.1" k4="-0.05"/><feComponentTransfer result="col"><feFuncR type="table" tableValues="0.28 0.28 0.28 0.28 0.28 0.28 0.28 0.28 0.29 0.36 0.5 0.53 0.49 0.43 0.43 0.5 0.76 0.98 0.98 0.92 0.88"/><feFuncG type="table" tableValues="0.33 0.33 0.33 0.33 0.33 0.33 0.33 0.34 0.44 0.65 0.83 0.89 0.85 0.79 0.78 0.8 0.86 0.89 0.67 0.35 0.2"/><feFuncB type="table" tableValues="0.7 0.7 0.7 0.7 0.7 0.7 0.7 0.71 0.78 0.89 0.94 0.86 0.51 0.06 0.02 0.02 0.04 0.08 0.06 0.08 0.08"/></feComponentTransfer><feComposite in="col" in2="m" operator="in"/></filter><g filter="url(#d10)"><rect x="689.6" y="1411" width="490.8" height="490" fill="#000"/><g clip-path="url(#c10)"><g transform="translate(709 1431) scale(0.24835)"><path d="M0 330L150 230L1830 200L1830 700L1650 960L1300 1020L800 1150L620 1330L250 1340L200 900L0 640Z" fill="#171717" filter="url(#b30)"/><path d="M60 420L180 240L1830 215L1830 650L1700 850L1300 930L900 980L680 1100L560 1310L270 1320L220 900L70 600Z" fill="#262626" filter="url(#b18)"/><path d="M180 340L230 262L400 236L800 242L1830 232L1830 400L180 400Z" fill="#303030" filter="url(#b7)"/><path d="M150 420C164.7 387.5 188.3 328.3 230 305C271.7 281.7 338.3 276.7 400 280C461.7 283.3 500 315 600 325C700 335 795 338.3 1000 340C1205 341.7 1691.7 288.3 1830 335C1968.3 381.7 1843.3 555.8 1830 620C1816.7 684.2 1780 685.8 1750 720C1720 754.2 1708.3 804.2 1650 825C1591.7 845.8 1508.3 842.8 1400 845C1291.7 847.2 1103.3 832.2 1000 838C896.7 843.8 838.3 861.3 780 880C721.7 898.7 686.7 921.7 650 950C613.3 978.3 585 1011.7 560 1050C535 1088.3 520 1140.8 500 1180C480 1219.2 465 1267.5 440 1285C415 1302.5 375.8 1307.5 350 1285C324.2 1262.5 299.7 1205.8 285 1150C270.3 1094.2 265.8 1015 262 950C258.2 885 275.3 818.3 262 760C248.7 701.7 202 643.3 182 600C162 556.7 147.3 530 142 500C136.7 470 135.3 452.5 150 420Z" fill="#575757" filter="url(#b7)"/><path d="M780 420L1300 420L1300 780L780 780Z" fill="#5e5e5e" filter="url(#b30)"/><path d="M700 700C750 698.3 900 691.7 1000 690C1100 688.3 1250 690 1300 690" fill="none" stroke="#737373" stroke-width="80" stroke-linecap="round" filter="url(#b26)"/><path d="M190 540C181.7 486.7 221.7 413.3 260 380C298.3 346.7 363.3 338.3 420 340C476.7 341.7 553.3 353.3 600 390C646.7 426.7 673.3 505 700 560C726.7 615 770 670 760 720C750 770 680 821.7 640 860C600 898.3 551.7 913.3 520 950C488.3 986.7 475 1058.3 450 1080C425 1101.7 390 1110 370 1080C350 1050 340 963.3 330 900C320 836.7 333.3 760 310 700C286.7 640 198.3 593.3 190 540Z" fill="#6b6b6b" filter="url(#b30)"/><ellipse cx="1460" cy="575" rx="230" ry="210" fill="#6b6b6b" filter="url(#b30)"/><path d="M215 545C206.7 496.7 245.8 438.3 280 410C314.2 381.7 373.3 375 420 375C466.7 375 521.7 382.5 560 410C598.3 437.5 626.7 491.7 650 540C673.3 588.3 705 651.7 700 700C695 748.3 653.3 796.7 620 830C586.7 863.3 530 870 500 900C470 930 458.3 991.7 440 1010C421.7 1028.3 403.3 1031.7 390 1010C376.7 988.3 370 931.7 360 880C350 828.3 354.2 755.8 330 700C305.8 644.2 223.3 593.3 215 545Z" fill="#808080" filter="url(#b18)"/><ellipse cx="1455" cy="570" rx="175" ry="170" fill="#858585" filter="url(#b22)"/><ellipse cx="1412" cy="545" rx="40" ry="90" fill="#a3a3a3" filter="url(#b12)"/><ellipse cx="540" cy="735" rx="85" ry="45" fill="#919191" transform="rotate(-30 540 735)" filter="url(#b14)"/><path d="M240 540C242.5 519.2 266.7 488.7 285 470C303.3 451.3 317.5 436 350 428C382.5 420 447.5 417.5 480 422C512.5 426.5 525 437.8 545 455C565 472.2 596.7 500.8 600 525C603.3 549.2 581.7 578.8 565 600C548.3 621.2 524.2 640 500 652C475.8 664 448.3 673.2 420 672C391.7 670.8 355 657.8 330 645C305 632.2 285 612.5 270 595C255 577.5 237.5 560.8 240 540Z" fill="#adadad" filter="url(#b9)"/><ellipse cx="420" cy="542" rx="100" ry="55" fill="#d9d9d9" filter="url(#b10)"/><ellipse cx="420" cy="535" rx="60" ry="25" fill="#ffffff" filter="url(#b8)"/></g></g></g>
<rect x="709.6" y="1431" width="450.8" height="450" fill="none" stroke="#8a8a8a" stroke-width="1.3"/>
<rect x="696.8" y="1879.9" width="12.8" height="2.2"/>
<text x="675.7" y="1880.2" font-size="21" text-anchor="end">10</text>
<text x="688.4" y="1865.2" font-size="21" text-anchor="end">0</text>
<rect x="696.8" y="1797.2" width="12.8" height="2.2"/>
<text x="675.7" y="1810.8" font-size="21" text-anchor="end">10</text>
<text x="688.4" y="1795.8" font-size="21" text-anchor="end">1</text>
<rect x="696.8" y="1714.5" width="12.8" height="2.2"/>
<text x="675.7" y="1728.1" font-size="21" text-anchor="end">10</text>
<text x="688.4" y="1713.1" font-size="21" text-anchor="end">2</text>
<rect x="696.8" y="1631.7" width="12.8" height="2.2"/>
<text x="675.7" y="1645.3" font-size="21" text-anchor="end">10</text>
<text x="688.4" y="1630.3" font-size="21" text-anchor="end">3</text>
<rect x="696.8" y="1549" width="12.8" height="2.2"/>
<text x="675.7" y="1562.6" font-size="21" text-anchor="end">10</text>
<text x="688.4" y="1547.6" font-size="21" text-anchor="end">4</text>
<rect x="696.8" y="1466.3" width="12.8" height="2.2"/>
<text x="675.7" y="1479.9" font-size="21" text-anchor="end">10</text>
<text x="688.4" y="1464.9" font-size="21" text-anchor="end">5</text>
<rect x="734.8" y="1881" width="5.2" height="13.8"/>
<text x="729.2" y="1925.4" font-size="21">-</text>
<text x="736.5" y="1925.4" font-size="21">10</text>
<text x="760.9" y="1910.8" font-size="21">3</text>
<path d="M800.9 1881H822.3v13.5h-4.6v-4.5h-3.2v4.5h-5.6v-4.5h-3.2v4.5H800.9z"/>
<text x="812.6" y="1925.4" font-size="21">0</text>
<rect x="883.5" y="1881" width="5.2" height="13.8"/>
<text x="882.5" y="1925.4" font-size="21">10</text>
<text x="906.9" y="1910.8" font-size="21">3</text>
<rect x="1006.4" y="1881" width="5.2" height="13.8"/>
<text x="1005.4" y="1925.4" font-size="21">10</text>
<text x="1029.8" y="1910.8" font-size="21">4</text>
<rect x="1114.1" y="1881" width="5.2" height="13.8"/>
<text x="1113.1" y="1925.4" font-size="21">10</text>
<text x="1137.5" y="1910.8" font-size="21">5</text>
<rect x="766.7" y="1881" width="4" height="10"/>
<rect x="850.2" y="1881" width="4" height="10"/>
<rect x="973.2" y="1881" width="4" height="10"/>
<rect x="1083" y="1881" width="4" height="10"/>
<path d="M703.4 1856.1h6.2M700.8 1841.5h8.8M700.8 1831.2h8.8M700.8 1823.2h8.8M700.8 1816.6h8.8M700.8 1811.1h8.8M700.8 1806.3h8.8M700.8 1802.1h8.8M703.4 1773.4h6.2M700.8 1758.8h8.8M700.8 1748.5h8.8M700.8 1740.5h8.8M700.8 1733.9h8.8M700.8 1728.4h8.8M700.8 1723.6h8.8M700.8 1719.3h8.8M703.4 1690.7h6.2M700.8 1676.1h8.8M700.8 1665.8h8.8M700.8 1657.7h8.8M700.8 1651.2h8.8M700.8 1645.7h8.8M700.8 1640.9h8.8M700.8 1636.6h8.8M703.4 1607.9h6.2M700.8 1593.4h8.8M700.8 1583h8.8M700.8 1575h8.8M700.8 1568.5h8.8M700.8 1562.9h8.8M700.8 1558.1h8.8M700.8 1553.9h8.8M703.4 1525.2h6.2M700.8 1510.6h8.8M700.8 1500.3h8.8M700.8 1492.3h8.8M700.8 1485.7h8.8M700.8 1480.2h8.8M700.8 1475.4h8.8M700.8 1471.2h8.8M703.4 1442.5h6.2M745.1 1881v6.6M751.5 1881v6.6M757.4 1881v6.6M762.5 1881v6.6M776.7 1881v6.6M782.9 1881v6.6M788.4 1881v6.6M794.2 1881v6.6M828.8 1881v6.6M836.8 1881v6.6M844.7 1881v6.6M859.4 1881v6.6M866.2 1881v6.6M872.9 1881v6.6M878 1881v6.6M924.8 1881v6.6M947.3 1881v6.6M963.3 1881v6.6M984.4 1881v6.6M992.8 1881v6.6M999.8 1881v6.6M1042.7 1881v6.6M1061.7 1881v6.6M1075.3 1881v6.6M1092.6 1881v6.6M1099.1 1881v6.6M1105.3 1881v6.6M1110.2 1881v6.6M1146.4 1881v6.6" stroke="#000" stroke-width="1.5" fill="none"/>
<text x="933.8" y="1967.6" font-size="24" text-anchor="middle" letter-spacing=".8">Comp-7AAD-A</text>
<text transform="translate(610.3 1656) rotate(-90)" font-size="24" text-anchor="middle" letter-spacing=".8">SSC-A</text>
<rect x="725.6" y="1466.3" width="176.3" height="349.7" fill="none" stroke="#000" stroke-width="1.6"/><text x="966" y="1705.4" font-size="24.3" text-anchor="middle" letter-spacing=".35">live cells</text><text x="965" y="1735.4" font-size="24.3" text-anchor="middle" letter-spacing=".35">78.6</text>
</g>
<g id="panel11">
<filter id="d11" filterUnits="userSpaceOnUse" x="1293.5" y="1431" width="453" height="452.5" color-interpolation-filters="sRGB"><feTurbulence type="fractalNoise" baseFrequency="0.42" numOctaves="1" seed="13" result="t"/><feColorMatrix in="t" type="matrix" values="0 0 0 0 0 0 0 0 0 0 0 0 0 0 0 1 0 0 0 0" result="na"/><feColorMatrix in="SourceGraphic" type="matrix" values="0 0 0 0 0 0 0 0 0 0 0 0 0 0 0 1 0 0 0 0"/><feComponentTransfer result="da"><feFuncA type="table" tableValues="0 0.11 0.23 0.36 0.5 0.66 0.85 1 1 1 1 1 1 1 1 1 1 1 1 1 1"/></feComponentTransfer><feComposite in="da" in2="na" operator="arithmetic" k1="0" k2="1" k3="1" k4="-0.36"/><feComponentTransfer result="m"><feFuncA type="discrete" tableValues="0 1"/></feComponentTransfer><feColorMatrix in="t" type="matrix" values="0 1 0 0 0 0 1 0 0 0 0 1 0 0 0 0 0 0 0 1" result="ng"/><feComposite in="SourceGraphic" in2="ng" operator="arithmetic" k1="0" k2="1" k3="0.1" k4="-0.05"/><feComponentTransfer result="col"><feFuncR type="table" tableValues="0.28 0.28 0.28 0.28 0.28 0.28 0.28 0.28 0.29 0.36 0.5 0.53 0.49 0.43 0.43 0.5 0.76 0.98 0.98 0.92 0.88"/><feFuncG type="table" tableValues="0.33 0.33 0.33 0.33 0.33 0.33 0.33 0.34 0.44 0.65 0.83 0.89 0.85 0.79 0.78 0.8 0.86 0.89 0.67 0.35 0.2"/><feFuncB type="table" tableValues="0.7 0.7 0.7 0.7 0.7 0.7 0.7 0.71 0.78 0.89 0.94 0.86 0.51 0.06 0.02 0.02 0.04 0.08 0.06 0.08 0.08"/></feComponentTransfer><feComposite in="col" in2="m" operator="in"/></filter><g filter="url(#d11)"><rect x="1273.5" y="1411" width="493" height="492.5" fill="#000"/><g clip-path="url(#c11)"><g transform="translate(1294 1431) scale(0.24835)"><path d="M640 260L1250 360L1550 470L1250 720L900 920L650 1080L600 700Z" fill="#121212" filter="url(#b35)"/><path d="M640 280L1050 370L1150 450L1050 700L850 880L650 1050L500 1150L600 700Z" fill="#212121" filter="url(#b22)"/><path d="M680 400L880 420L960 520L920 720L800 880L620 1000Z" fill="#333333" filter="url(#b14)"/><path d="M470 240L420 400L330 760L160 1130L300 1160L500 800L560 300Z" fill="#1f1f1f" filter="url(#b14)"/><path d="M110 1285L160 1190L220 1100L300 950L380 800L420 650L442 450L470 270L510 250L560 262L600 300L665 380L700 425L800 440L870 480L885 560L860 700L790 840L650 945L520 1045L400 1125L250 1215Z" fill="#575757" filter="url(#b6)"/><path d="M495 380C512.5 388.3 550 433.3 560 470C570 506.7 563.3 553.3 555 600C546.7 646.7 526.7 700 510 750C493.3 800 473.3 861.7 455 900C436.7 938.3 415.8 973.3 400 980C384.2 986.7 360.8 970 360 940C359.2 910 384.2 848.3 395 800C405.8 751.7 418.3 700 425 650C431.7 600 430 538.3 435 500C440 461.7 445 440 455 420C465 400 477.5 371.7 495 380Z" fill="#6b6b6b" filter="url(#b18)"/><path d="M495 430C507.5 435 534.2 451.7 540 480C545.8 508.3 537.5 560 530 600C522.5 640 509.2 676.7 495 720C480.8 763.3 458.3 836.7 445 860C431.7 883.3 416.7 886.7 415 860C413.3 833.3 429.2 756.7 435 700C440.8 643.3 445 561.7 450 520C455 478.3 457.5 465 465 450C472.5 435 482.5 425 495 430Z" fill="#808080" filter="url(#b11)"/><ellipse cx="482" cy="557" rx="28" ry="85" fill="#adadad" transform="rotate(3 482 557)" filter="url(#b7)"/><ellipse cx="483" cy="545" rx="15" ry="40" fill="#d9d9d9" filter="url(#b6)"/><ellipse cx="484" cy="538" rx="8" ry="18" fill="#ffffff" filter="url(#b5)"/></g></g></g>
<rect x="1293.5" y="1431" width="453" height="452.5" fill="none" stroke="#8a8a8a" stroke-width="1.3"/>
<rect x="1280.7" y="1882.4" width="12.8" height="2.2"/>
<text x="1259.6" y="1882.7" font-size="21" text-anchor="end">10</text>
<text x="1272.3" y="1867.7" font-size="21" text-anchor="end">0</text>
<rect x="1280.7" y="1799.2" width="12.8" height="2.2"/>
<text x="1259.6" y="1812.8" font-size="21" text-anchor="end">10</text>
<text x="1272.3" y="1797.8" font-size="21" text-anchor="end">1</text>
<rect x="1280.7" y="1716" width="12.8" height="2.2"/>
<text x="1259.6" y="1729.6" font-size="21" text-anchor="end">10</text>
<text x="1272.3" y="1714.6" font-size="21" text-anchor="end">2</text>
<rect x="1280.7" y="1632.9" width="12.8" height="2.2"/>
<text x="1259.6" y="1646.5" font-size="21" text-anchor="end">10</text>
<text x="1272.3" y="1631.5" font-size="21" text-anchor="end">3</text>
<rect x="1280.7" y="1549.7" width="12.8" height="2.2"/>
<text x="1259.6" y="1563.3" font-size="21" text-anchor="end">10</text>
<text x="1272.3" y="1548.3" font-size="21" text-anchor="end">4</text>
<rect x="1280.7" y="1466.5" width="12.8" height="2.2"/>
<text x="1259.6" y="1480.1" font-size="21" text-anchor="end">10</text>
<text x="1272.3" y="1465.1" font-size="21" text-anchor="end">5</text>
<rect x="1292.5" y="1883.5" width="4.4" height="13.2"/>
<text x="1297.7" y="1917.7" font-size="21" text-anchor="middle">0</text>
<rect x="1378.7" y="1883.5" width="4.4" height="13.2"/>
<text x="1380.9" y="1917.7" font-size="21" text-anchor="middle">50K</text>
<rect x="1464.9" y="1883.5" width="4.4" height="13.2"/>
<text x="1467.1" y="1917.7" font-size="21" text-anchor="middle">100K</text>
<rect x="1551.1" y="1883.5" width="4.4" height="13.2"/>
<text x="1553.3" y="1917.7" font-size="21" text-anchor="middle">150K</text>
<rect x="1637.3" y="1883.5" width="4.4" height="13.2"/>
<text x="1639.5" y="1917.7" font-size="21" text-anchor="middle">200K</text>
<rect x="1723.6" y="1883.5" width="4.4" height="13.2"/>
<text x="1747.1" y="1917.7" font-size="21" text-anchor="end">250K</text>
<path d="M1287.3 1858.5h6.2M1284.7 1843.8h8.8M1284.7 1833.4h8.8M1284.7 1825.4h8.8M1284.7 1818.8h8.8M1284.7 1813.2h8.8M1284.7 1808.4h8.8M1284.7 1804.1h8.8M1287.3 1775.3h6.2M1284.7 1760.6h8.8M1284.7 1750.2h8.8M1284.7 1742.2h8.8M1284.7 1735.6h8.8M1284.7 1730h8.8M1284.7 1725.2h8.8M1284.7 1720.9h8.8M1287.3 1692.1h6.2M1284.7 1677.5h8.8M1284.7 1667.1h8.8M1284.7 1659h8.8M1284.7 1652.4h8.8M1284.7 1646.8h8.8M1284.7 1642h8.8M1284.7 1637.8h8.8M1287.3 1608.9h6.2M1284.7 1594.3h8.8M1284.7 1583.9h8.8M1284.7 1575.8h8.8M1284.7 1569.2h8.8M1284.7 1563.7h8.8M1284.7 1558.8h8.8M1284.7 1554.6h8.8M1287.3 1525.7h6.2M1284.7 1511.1h8.8M1284.7 1500.7h8.8M1284.7 1492.6h8.8M1284.7 1486.1h8.8M1284.7 1480.5h8.8M1284.7 1475.7h8.8M1284.7 1471.4h8.8M1287.3 1442.6h6.2M1311.9 1883.5v6.6M1329.2 1883.5v6.6M1346.4 1883.5v6.6M1363.7 1883.5v6.6M1398.2 1883.5v6.6M1415.4 1883.5v6.6M1432.6 1883.5v6.6M1449.9 1883.5v6.6M1484.4 1883.5v6.6M1501.6 1883.5v6.6M1518.9 1883.5v6.6M1536.1 1883.5v6.6M1570.6 1883.5v6.6M1587.8 1883.5v6.6M1605.1 1883.5v6.6M1622.3 1883.5v6.6M1656.8 1883.5v6.6M1674 1883.5v6.6M1691.3 1883.5v6.6M1708.5 1883.5v6.6M1743 1883.5v6.6" stroke="#000" stroke-width="1.5" fill="none"/>
<text x="1518.8" y="1970.1" font-size="24" text-anchor="middle" letter-spacing=".8">SSC-W</text>
<text transform="translate(1194.2 1657.2) rotate(-90)" font-size="24" text-anchor="middle" letter-spacing=".8">SSC-A</text>
<path d="M1416.9 1482.7L1450.5 1497.6L1466.6 1567.1L1423.1 1685.6L1364 1734L1328.3 1710.4L1371 1617.3L1393.3 1525.4Z" fill="none" stroke="#000" stroke-width="1.6" stroke-linejoin="miter"/><text x="1536.9" y="1468.3" font-size="24.3" text-anchor="middle" letter-spacing=".35">Single Cells</text><text x="1536.9" y="1498.6" font-size="24.3" text-anchor="middle" letter-spacing=".35">99.1</text>
</g>
<g id="panel12">
<filter id="d12" filterUnits="userSpaceOnUse" x="1881" y="1430.8" width="453.5" height="451.2" color-interpolation-filters="sRGB"><feTurbulence type="fractalNoise" baseFrequency="0.42" numOctaves="1" seed="14" result="t"/><feColorMatrix in="t" type="matrix" values="0 0 0 0 0 0 0 0 0 0 0 0 0 0 0 1 0 0 0 0" result="na"/><feColorMatrix in="SourceGraphic" type="matrix" values="0 0 0 0 0 0 0 0 0 0 0 0 0 0 0 1 0 0 0 0"/><feComponentTransfer result="da"><feFuncA type="table" tableValues="0 0.11 0.23 0.36 0.5 0.66 0.85 1 1 1 1 1 1 1 1 1 1 1 1 1 1"/></feComponentTransfer><feComposite in="da" in2="na" operator="arithmetic" k1="0" k2="1" k3="1" k4="-0.36"/><feComponentTransfer result="m"><feFuncA type="discrete" tableValues="0 1"/></feComponentTransfer><feColorMatrix in="t" type="matrix" values="0 1 0 0 0 0 1 0 0 0 0 1 0 0 0 0 0 0 0 1" result="ng"/><feComposite in="SourceGraphic" in2="ng" operator="arithmetic" k1="0" k2="1" k3="0.1" k4="-0.05"/><feComponentTransfer result="col"><feFuncR type="table" tableValues="0.28 0.28 0.28 0.28 0.28 0.28 0.28 0.28 0.29 0.36 0.5 0.53 0.49 0.43 0.43 0.5 0.76 0.98 0.98 0.92 0.88"/><feFuncG type="table" tableValues="0.33 0.33 0.33 0.33 0.33 0.33 0.33 0.34 0.44 0.65 0.83 0.89 0.85 0.79 0.78 0.8 0.86 0.89 0.67 0.35 0.2"/><feFuncB type="table" tableValues="0.7 0.7 0.7 0.7 0.7 0.7 0.7 0.71 0.78 0.89 0.94 0.86 0.51 0.06 0.02 0.02 0.04 0.08 0.06 0.08 0.08"/></feComponentTransfer><feComposite in="col" in2="m" operator="in"/></filter><g filter="url(#d12)"><rect x="1861" y="1410.8" width="493.5" height="491.2" fill="#000"/><g clip-path="url(#c12)"><g transform="translate(1881 1431) scale(0.24835)"><path d="M425 480L485 480L510 1000L390 1000Z" fill="#121212" filter="url(#b14)"/><path d="M150 1400C171.7 1350 291.7 1275 330 1200C368.3 1125 355 1003.3 380 950C405 896.7 440 880 480 880C520 880 583.3 905 620 950C656.7 995 645 1111.7 700 1150C755 1188.3 886.7 1155 950 1180C1013.3 1205 1071.7 1250 1080 1300C1088.3 1350 1080 1446.7 1000 1480C920 1513.3 733.3 1496.7 600 1500C466.7 1503.3 275 1516.7 200 1500C125 1483.3 128.3 1450 150 1400Z" fill="#121212" filter="url(#b40)"/><path d="M200 1400C220 1360.8 337.5 1316.7 370 1250C402.5 1183.3 376.7 1050 395 1000C413.3 950 447.5 950 480 950C512.5 950 561.7 958.3 590 1000C618.3 1041.7 598.3 1165 650 1200C701.7 1235 840 1193.3 900 1210C960 1226.7 1000 1259.2 1010 1300C1020 1340.8 1028.3 1424.2 960 1455C891.7 1485.8 718.3 1480 600 1485C481.7 1490 316.7 1499.2 250 1485C183.3 1470.8 180 1439.2 200 1400Z" fill="#1c1c1c" filter="url(#b24)"/><path d="M0 1425L300 1410L300 1470L0 1470Z" fill="#1c1c1c" filter="url(#b8)"/><ellipse cx="485" cy="1140" rx="90" ry="150" fill="#2e2e2e" filter="url(#b16)"/><ellipse cx="480" cy="1130" rx="58" ry="115" fill="#404040" filter="url(#b10)"/><path d="M260 1395C293.3 1369.2 368.3 1325 450 1300C531.7 1275 675 1252.5 750 1245C825 1237.5 869.2 1242.5 900 1255C930.8 1267.5 935 1294.2 935 1320C935 1345.8 922.5 1388.3 900 1410C877.5 1431.7 891.7 1440.3 800 1450C708.3 1459.7 441.7 1467.2 350 1468C258.3 1468.8 265 1467.2 250 1455C235 1442.8 226.7 1420.8 260 1395Z" fill="#333333" filter="url(#b12)"/><path d="M230 1405C245 1387.5 293.3 1360.5 330 1345C366.7 1329.5 405 1320.8 450 1312C495 1303.2 550 1300.3 600 1292C650 1283.7 703.3 1265.3 750 1262C796.7 1258.7 852 1262.3 880 1272C908 1281.7 916.3 1298.7 918 1320C919.7 1341.3 909.7 1380 890 1400C870.3 1420 848.3 1430.8 800 1440C751.7 1449.2 675 1451.7 600 1455C525 1458.3 410 1460.8 350 1460C290 1459.2 260 1459.2 240 1450C220 1440.8 215 1422.5 230 1405Z" fill="#575757" filter="url(#b8)"/><path d="M390 1390C398.3 1376.7 421.7 1353.3 450 1350C478.3 1346.7 525 1362.5 560 1370C595 1377.5 660 1386.7 660 1395C660 1403.3 603.3 1414.2 560 1420C516.7 1425.8 428.3 1435 400 1430C371.7 1425 381.7 1403.3 390 1390Z" fill="#666666" filter="url(#b12)"/><ellipse cx="462" cy="1398" rx="72" ry="38" fill="#808080" filter="url(#b7)"/><ellipse cx="452" cy="1398" rx="46" ry="26" fill="#adadad" filter="url(#b5)"/><ellipse cx="452" cy="1398" rx="28" ry="16" fill="#d9d9d9" filter="url(#b4)"/><ellipse cx="452" cy="1398" rx="11" ry="7" fill="#ffffff" filter="url(#b3)"/></g></g></g>
<rect x="1881" y="1430.8" width="453.5" height="451.2" fill="none" stroke="#8a8a8a" stroke-width="1.3"/>
<rect x="1868.2" y="1851.6" width="12.8" height="2.2"/>
<text x="1847.1" y="1865.2" font-size="21" text-anchor="end">10</text>
<text x="1822.5" y="1865.2" font-size="21" text-anchor="end">-</text>
<text x="1859.8" y="1850.2" font-size="21" text-anchor="end">3</text>
<rect x="1868.5" y="1769" width="12.5" height="19"/>
<text x="1847.5" y="1786.3" font-size="21" text-anchor="end">0</text>
<rect x="1868.2" y="1702.8" width="12.8" height="2.2"/>
<text x="1847.1" y="1716.4" font-size="21" text-anchor="end">10</text>
<text x="1859.8" y="1701.4" font-size="21" text-anchor="end">3</text>
<rect x="1868.2" y="1579.8" width="12.8" height="2.2"/>
<text x="1847.1" y="1593.4" font-size="21" text-anchor="end">10</text>
<text x="1859.8" y="1578.4" font-size="21" text-anchor="end">4</text>
<rect x="1868.2" y="1472" width="12.8" height="2.2"/>
<text x="1847.1" y="1485.6" font-size="21" text-anchor="end">10</text>
<text x="1859.8" y="1470.6" font-size="21" text-anchor="end">5</text>
<rect x="1906.4" y="1882" width="5.2" height="13.8"/>
<text x="1900.8" y="1926.4" font-size="21">-</text>
<text x="1908.1" y="1926.4" font-size="21">10</text>
<text x="1932.5" y="1911.8" font-size="21">3</text>
<path d="M1972.8 1882H1994.4v13.5h-4.6v-4.5h-3.2v4.5h-5.6v-4.5h-3.2v4.5H1972.8z"/>
<text x="1984.6" y="1926.4" font-size="21">0</text>
<rect x="2056" y="1882" width="5.2" height="13.8"/>
<text x="2055" y="1926.4" font-size="21">10</text>
<text x="2079.4" y="1911.8" font-size="21">3</text>
<rect x="2179.6" y="1882" width="5.2" height="13.8"/>
<text x="2178.6" y="1926.4" font-size="21">10</text>
<text x="2203" y="1911.8" font-size="21">4</text>
<rect x="2288" y="1882" width="5.2" height="13.8"/>
<text x="2287" y="1926.4" font-size="21">10</text>
<text x="2311.4" y="1911.8" font-size="21">5</text>
<rect x="1938.5" y="1882" width="4" height="10"/>
<rect x="2022.5" y="1882" width="4" height="10"/>
<rect x="2146.2" y="1882" width="4" height="10"/>
<rect x="2256.6" y="1882" width="4" height="10"/>
<path d="M1873.2 1821.4h7.8M1873.2 1737.9h7.8M1873.2 1614.8h7.8M1873.2 1504.9h7.8M1873.2 1845.1h7.8M1873.2 1838.7h7.8M1873.2 1832.8h7.8M1873.2 1827.7h7.8M1873.2 1813.4h7.8M1873.2 1807.2h7.8M1873.2 1801.7h7.8M1873.2 1796h7.8M1873.2 1761.3h7.8M1873.2 1753.3h7.8M1873.2 1745.3h7.8M1873.2 1730.7h7.8M1873.2 1723.9h7.8M1873.2 1717.2h7.8M1873.2 1712.1h7.8M1876.4 1665.2h4.6M1876.4 1642.7h4.6M1876.4 1626.7h4.6M1873.2 1605.6h7.8M1873.2 1597.1h7.8M1873.2 1590.1h7.8M1876.4 1547.2h4.6M1876.4 1528.2h4.6M1876.4 1514.5h4.6M1873.2 1497.3h7.8M1873.2 1490.8h7.8M1873.2 1484.5h7.8M1873.2 1479.6h7.8M1876.4 1443.4h4.6M1916.7 1882v6.6M1923.1 1882v6.6M1929.1 1882v6.6M1934.2 1882v6.6M1948.5 1882v6.6M1954.7 1882v6.6M1960.3 1882v6.6M1966.1 1882v6.6M2000.9 1882v6.6M2008.9 1882v6.6M2016.9 1882v6.6M2031.7 1882v6.6M2038.5 1882v6.6M2045.2 1882v6.6M2050.4 1882v6.6M2097.5 1882v6.6M2120.1 1882v6.6M2136.2 1882v6.6M2157.4 1882v6.6M2165.9 1882v6.6M2173 1882v6.6M2216.1 1882v6.6M2235.2 1882v6.6M2248.9 1882v6.6M2266.3 1882v6.6M2272.8 1882v6.6M2279.1 1882v6.6M2284 1882v6.6M2320.5 1882v6.6" stroke="#000" stroke-width="1.5" fill="none"/>
<text x="2106.6" y="1968.6" font-size="24" text-anchor="middle" letter-spacing=".8">NALM6-GFP</text>
<text transform="translate(1781.7 1656.4) rotate(-90)" font-size="24" text-anchor="middle" letter-spacing=".8">CD19-BUV737</text>
<ellipse cx="2152.4" cy="1616.8" rx="147.3" ry="90.6" transform="rotate(14 2152.4 1616.8)" fill="none" stroke="#000" stroke-width="2.1"/><path d="M2056.1 1802.8L2167.8 1801L2113.2 1739L1995.7 1643.8L1934.4 1645.1L1934.4 1799.1" fill="none" stroke="#000" stroke-width="2.1" stroke-linejoin="miter"/><text x="2259.7" y="1469.5" font-size="24.3" text-anchor="middle" letter-spacing=".35">NALM6</text><text x="2262.2" y="1499" font-size="24.3" text-anchor="middle" letter-spacing=".35">6.40E-4</text><text x="1972.4" y="1827.9" font-size="24.3" text-anchor="middle" letter-spacing=".35">CD19 negative</text><text x="1973.4" y="1858.2" font-size="24.3" text-anchor="middle" letter-spacing=".35">100.0</text>
</g>
<g id="panel13">
<filter id="d13" filterUnits="userSpaceOnUse" x="120.8" y="2068" width="451.5" height="451.5" color-interpolation-filters="sRGB"><feTurbulence type="fractalNoise" baseFrequency="0.42" numOctaves="1" seed="15" result="t"/><feColorMatrix in="t" type="matrix" values="0 0 0 0 0 0 0 0 0 0 0 0 0 0 0 1 0 0 0 0" result="na"/><feColorMatrix in="SourceGraphic" type="matrix" values="0 0 0 0 0 0 0 0 0 0 0 0 0 0 0 1 0 0 0 0"/><feComponentTransfer result="da"><feFuncA type="table" tableValues="0 0.11 0.23 0.36 0.5 0.66 0.85 1 1 1 1 1 1 1 1 1 1 1 1 1 1"/></feComponentTransfer><feComposite in="da" in2="na" operator="arithmetic" k1="0" k2="1" k3="1" k4="-0.36"/><feComponentTransfer result="m"><feFuncA type="discrete" tableValues="0 1"/></feComponentTransfer><feColorMatrix in="t" type="matrix" values="0 1 0 0 0 0 1 0 0 0 0 1 0 0 0 0 0 0 0 1" result="ng"/><feComposite in="SourceGraphic" in2="ng" operator="arithmetic" k1="0" k2="1" k3="0.1" k4="-0.05"/><feComponentTransfer result="col"><feFuncR type="table" tableValues="0.28 0.28 0.28 0.28 0.28 0.28 0.28 0.28 0.29 0.36 0.5 0.53 0.49 0.43 0.43 0.5 0.76 0.98 0.98 0.92 0.88"/><feFuncG type="table" tableValues="0.33 0.33 0.33 0.33 0.33 0.33 0.33 0.34 0.44 0.65 0.83 0.89 0.85 0.79 0.78 0.8 0.86 0.89 0.67 0.35 0.2"/><feFuncB type="table" tableValues="0.7 0.7 0.7 0.7 0.7 0.7 0.7 0.71 0.78 0.89 0.94 0.86 0.51 0.06 0.02 0.02 0.04 0.08 0.06 0.08 0.08"/></feComponentTransfer><feComposite in="col" in2="m" operator="in"/></filter><g filter="url(#d13)"><rect x="100.8" y="2048" width="491.5" height="491.5" fill="#000"/><g clip-path="url(#c13)"><g transform="translate(121 2068) scale(0.24835)"><path d="M400 300L1250 400L1300 900L1050 1150L500 1150Z" fill="#0f0f0f" filter="url(#b40)"/><path d="M170 270L500 270L1100 480L1100 720L800 1000L500 1130L300 1120L160 700Z" fill="#141414" filter="url(#b30)"/><path d="M300 300L450 290L1000 520L950 700L700 900L540 1100L400 1000Z" fill="#212121" filter="url(#b18)"/><ellipse cx="1420" cy="620" rx="240" ry="160" fill="#141414" transform="rotate(-28 1420 620)" filter="url(#b22)"/><ellipse cx="1415" cy="625" rx="200" ry="112" fill="#242424" transform="rotate(-28 1415 625)" filter="url(#b14)"/><path d="M185 275C203.7 250 252.5 250.8 280 250C307.5 249.2 321.7 258 350 270C378.3 282 415 299 450 322C485 345 518.3 379.7 560 408C601.7 436.3 656.7 471.3 700 492C743.3 512.7 770 518.2 820 532C870 545.8 991.7 555.7 1000 575C1008.3 594.3 911.7 630.2 870 648C828.3 665.8 787.5 660 750 682C712.5 704 673.3 741.2 645 780C616.7 818.8 599.2 870.8 580 915C560.8 959.2 550 1007.5 530 1045C510 1082.5 491.7 1124.2 460 1140C428.3 1155.8 366.3 1162.5 340 1140C313.7 1117.5 313.3 1052.5 302 1005C290.7 957.5 287 905 272 855C257 805 230.7 754.2 212 705C193.3 655.8 167.3 610.8 160 560C152.7 509.2 163.8 447.5 168 400C172.2 352.5 166.3 300 185 275Z" fill="#1a1a1a" filter="url(#b12)"/><path d="M210 292C224.7 270.7 256.7 272 280 272C303.3 272 321.7 279.8 350 292C378.3 304.2 415 322 450 345C485 368 518.3 401.7 560 430C601.7 458.3 656.7 494.5 700 515C743.3 535.5 778.3 542.5 820 553C861.7 563.5 943.3 566 950 578C956.7 590 895 611.3 860 625C825 638.7 778.3 637.5 740 660C701.7 682.5 660 720 630 760C600 800 580 855 560 900C540 945 528.3 993.7 510 1030C491.7 1066.3 476.7 1103.3 450 1118C423.3 1132.7 371.3 1137.7 350 1118C328.7 1098.3 331.7 1044.7 322 1000C312.3 955.3 307 900 292 850C277 800 250.3 748.3 232 700C213.7 651.7 188.7 610 182 560C175.3 510 187.3 444.7 192 400C196.7 355.3 195.3 313.3 210 292Z" fill="#575757" filter="url(#b7)"/><ellipse cx="1420" cy="620" rx="160" ry="80" fill="#575757" transform="rotate(-28 1420 620)" filter="url(#b6)"/><ellipse cx="1420" cy="630" rx="60" ry="40" fill="#666666" transform="rotate(-28 1420 630)" filter="url(#b16)"/><path d="M290 560C286.7 520 301.7 481.7 320 460C338.3 438.3 373.3 426.7 400 430C426.7 433.3 463.3 455 480 480C496.7 505 501.7 543.3 500 580C498.3 616.7 478.3 646.7 470 700C461.7 753.3 461.7 850 450 900C438.3 950 416.7 1000 400 1000C383.3 1000 360 950 350 900C340 850 350 756.7 340 700C330 643.3 293.3 600 290 560Z" fill="#6b6b6b" filter="url(#b22)"/><path d="M305 560C301.5 525.8 320 501.3 335 485C350 468.7 374.2 459.5 395 462C415.8 464.5 445.8 480.3 460 500C474.2 519.7 482 548.3 480 580C478 611.7 456.7 650 448 690C439.3 730 436.3 791.7 428 820C419.7 848.3 408 860 398 860C388 860 375 848.3 368 820C361 791.7 366.5 733.3 356 690C345.5 646.7 308.5 594.2 305 560Z" fill="#808080" filter="url(#b12)"/><path d="M322 555C324.5 538 334.5 516.3 350 508C365.5 499.7 398 498.8 415 505C432 511.2 447 529.2 452 545C457 560.8 451.2 584.2 445 600C438.8 615.8 427.5 633 415 640C402.5 647 383.3 647 370 642C356.7 637 343 624.5 335 610C327 595.5 319.5 572 322 555Z" fill="#adadad" filter="url(#b7)"/><ellipse cx="382" cy="555" rx="44" ry="40" fill="#d9d9d9" filter="url(#b6)"/><ellipse cx="380" cy="546" rx="22" ry="15" fill="#ffffff" filter="url(#b5)"/></g></g></g>
<rect x="120.8" y="2068" width="451.5" height="451.5" fill="none" stroke="#8a8a8a" stroke-width="1.3"/>
<rect x="108" y="2518.4" width="12.8" height="2.2"/>
<text x="86.9" y="2518.7" font-size="21" text-anchor="end">10</text>
<text x="99.6" y="2503.7" font-size="21" text-anchor="end">0</text>
<rect x="108" y="2435.4" width="12.8" height="2.2"/>
<text x="86.9" y="2449" font-size="21" text-anchor="end">10</text>
<text x="99.6" y="2434" font-size="21" text-anchor="end">1</text>
<rect x="108" y="2352.4" width="12.8" height="2.2"/>
<text x="86.9" y="2366" font-size="21" text-anchor="end">10</text>
<text x="99.6" y="2351" font-size="21" text-anchor="end">2</text>
<rect x="108" y="2269.4" width="12.8" height="2.2"/>
<text x="86.9" y="2283" font-size="21" text-anchor="end">10</text>
<text x="99.6" y="2268" font-size="21" text-anchor="end">3</text>
<rect x="108" y="2186.4" width="12.8" height="2.2"/>
<text x="86.9" y="2200" font-size="21" text-anchor="end">10</text>
<text x="99.6" y="2185" font-size="21" text-anchor="end">4</text>
<rect x="108" y="2103.4" width="12.8" height="2.2"/>
<text x="86.9" y="2117" font-size="21" text-anchor="end">10</text>
<text x="99.6" y="2102" font-size="21" text-anchor="end">5</text>
<rect x="146.1" y="2519.5" width="5.2" height="13.8"/>
<text x="140.5" y="2563.9" font-size="21">-</text>
<text x="147.8" y="2563.9" font-size="21">10</text>
<text x="172.2" y="2549.3" font-size="21">3</text>
<path d="M212.2 2519.5H233.7v13.5h-4.6v-4.5h-3.2v4.5h-5.6v-4.5h-3.2v4.5H212.2z"/>
<text x="224" y="2563.9" font-size="21">0</text>
<rect x="295" y="2519.5" width="5.2" height="13.8"/>
<text x="294" y="2563.9" font-size="21">10</text>
<text x="318.4" y="2549.3" font-size="21">3</text>
<rect x="418.1" y="2519.5" width="5.2" height="13.8"/>
<text x="417.1" y="2563.9" font-size="21">10</text>
<text x="441.5" y="2549.3" font-size="21">4</text>
<rect x="525.9" y="2519.5" width="5.2" height="13.8"/>
<text x="524.9" y="2563.9" font-size="21">10</text>
<text x="549.3" y="2549.3" font-size="21">5</text>
<rect x="178" y="2519.5" width="4" height="10"/>
<rect x="261.6" y="2519.5" width="4" height="10"/>
<rect x="384.8" y="2519.5" width="4" height="10"/>
<rect x="494.8" y="2519.5" width="4" height="10"/>
<path d="M114.6 2494.5h6.2M112 2479.9h8.8M112 2469.5h8.8M112 2461.5h8.8M112 2454.9h8.8M112 2449.4h8.8M112 2444.5h8.8M112 2440.3h8.8M114.6 2411.5h6.2M112 2396.9h8.8M112 2386.5h8.8M112 2378.5h8.8M112 2371.9h8.8M112 2366.4h8.8M112 2361.6h8.8M112 2357.3h8.8M114.6 2328.5h6.2M112 2313.9h8.8M112 2303.5h8.8M112 2295.5h8.8M112 2288.9h8.8M112 2283.4h8.8M112 2278.6h8.8M112 2274.3h8.8M114.6 2245.5h6.2M112 2230.9h8.8M112 2220.5h8.8M112 2212.5h8.8M112 2205.9h8.8M112 2200.4h8.8M112 2195.6h8.8M112 2191.3h8.8M114.6 2162.5h6.2M112 2147.9h8.8M112 2137.5h8.8M112 2129.5h8.8M112 2122.9h8.8M112 2117.4h8.8M112 2112.6h8.8M112 2108.3h8.8M114.6 2079.5h6.2M156.4 2519.5v6.6M162.8 2519.5v6.6M168.6 2519.5v6.6M173.7 2519.5v6.6M188 2519.5v6.6M194.2 2519.5v6.6M199.7 2519.5v6.6M205.5 2519.5v6.6M240.2 2519.5v6.6M248.2 2519.5v6.6M256.2 2519.5v6.6M270.8 2519.5v6.6M277.6 2519.5v6.6M284.3 2519.5v6.6M289.4 2519.5v6.6M336.4 2519.5v6.6M358.8 2519.5v6.6M374.9 2519.5v6.6M396 2519.5v6.6M404.5 2519.5v6.6M411.5 2519.5v6.6M454.4 2519.5v6.6M473.4 2519.5v6.6M487.1 2519.5v6.6M504.4 2519.5v6.6M510.9 2519.5v6.6M517.2 2519.5v6.6M522.1 2519.5v6.6M558.3 2519.5v6.6" stroke="#000" stroke-width="1.5" fill="none"/>
<text x="345.3" y="2606.1" font-size="24" text-anchor="middle" letter-spacing=".8">CD45-APC-Cy7</text>
<text transform="translate(21.5 2293.8) rotate(-90)" font-size="24" text-anchor="middle" letter-spacing=".8">SSC-H</text>
<path d="M448.8 2145.7L420.8 2145.7L420.8 2293.5L539.5 2293.5L539.5 2145.7L527.1 2145.7" fill="none" stroke="#000" stroke-width="1.6" stroke-linejoin="miter"/><text x="489.1" y="2105.3" font-size="24.3" text-anchor="middle" letter-spacing=".35">CD45+</text><text x="489.1" y="2134.8" font-size="24.3" text-anchor="middle" letter-spacing=".35">1.79</text>
</g>
<g id="panel14">
<filter id="d14" filterUnits="userSpaceOnUse" x="709.6" y="2068" width="453.9" height="453.4" color-interpolation-filters="sRGB"><feTurbulence type="fractalNoise" baseFrequency="0.4" numOctaves="1" seed="16" result="t"/><feColorMatrix in="t" type="matrix" values="0 0 0 0 0 0 0 0 0 0 0 0 0 0 0 1 0 0 0 0" result="na"/><feColorMatrix in="SourceGraphic" type="matrix" values="0 0 0 0 0 0 0 0 0 0 0 0 0 0 0 1 0 0 0 0"/><feComponentTransfer result="da"><feFuncA type="table" tableValues="0 0.08 0.16 0.25 0.33 0.4 0.46 0.52 0.57 0.61 0.65 0.68 0.71 0.74 0.76 0.78 0.8 0.82 0.84 0.86 0.88"/></feComponentTransfer><feComposite in="da" in2="na" operator="arithmetic" k1="0" k2="1" k3="1" k4="-0.36"/><feComponentTransfer result="m"><feFuncA type="discrete" tableValues="0 1"/></feComponentTransfer><feColorMatrix in="t" type="matrix" values="0 1 0 0 0 0 1 0 0 0 0 1 0 0 0 0 0 0 0 1" result="ng"/><feComposite in="SourceGraphic" in2="ng" operator="arithmetic" k1="0" k2="1" k3="0.8" k4="-0.4"/><feComponentTransfer result="col"><feFuncR type="table" tableValues="0.28 0.28 0.28 0.28 0.28 0.28 0.28 0.28 0.29 0.36 0.5 0.53 0.49 0.43 0.43 0.5 0.76 0.98 0.98 0.92 0.88"/><feFuncG type="table" tableValues="0.33 0.33 0.33 0.33 0.33 0.33 0.33 0.34 0.44 0.65 0.83 0.89 0.85 0.79 0.78 0.8 0.86 0.89 0.67 0.35 0.2"/><feFuncB type="table" tableValues="0.7 0.7 0.7 0.7 0.7 0.7 0.7 0.71 0.78 0.89 0.94 0.86 0.51 0.06 0.02 0.02 0.04 0.08 0.06 0.08 0.08"/></feComponentTransfer><feComposite in="col" in2="m" operator="in"/></filter><g filter="url(#d14)"><rect x="689.6" y="2048" width="493.9" height="493.4" fill="#000"/><g clip-path="url(#c14)"><g transform="translate(710 2068) scale(0.24835)"><ellipse cx="990" cy="620" rx="570" ry="230" fill="#0f0f0f" transform="rotate(-6 990 620)" filter="url(#b30)"/><ellipse cx="1030" cy="612" rx="490" ry="165" fill="#242424" transform="rotate(-8 1030 612)" filter="url(#b22)"/><ellipse cx="1055" cy="606" rx="415" ry="128" fill="#4c4c4c" transform="rotate(-9 1055 606)" filter="url(#b16)"/><ellipse cx="670" cy="640" rx="140" ry="62" fill="#4c4c4c" filter="url(#b14)"/><ellipse cx="1070" cy="608" rx="320" ry="98" fill="#7a7a7a" transform="rotate(-9 1070 608)" filter="url(#b16)"/><ellipse cx="1090" cy="612" rx="240" ry="70" fill="#a3a3a3" transform="rotate(-8 1090 612)" filter="url(#b14)"/><ellipse cx="1110" cy="618" rx="150" ry="45" fill="#cccccc" transform="rotate(-6 1110 618)" filter="url(#b12)"/><ellipse cx="1130" cy="625" rx="65" ry="24" fill="#f7f7f7" transform="rotate(-5 1130 625)" filter="url(#b9)"/></g></g></g>
<rect x="709.6" y="2068" width="453.9" height="453.4" fill="none" stroke="#8a8a8a" stroke-width="1.3"/>
<rect x="696.8" y="2520.3" width="12.8" height="2.2"/>
<text x="675.7" y="2520.6" font-size="21" text-anchor="end">10</text>
<text x="688.4" y="2505.6" font-size="21" text-anchor="end">0</text>
<rect x="696.8" y="2437" width="12.8" height="2.2"/>
<text x="675.7" y="2450.6" font-size="21" text-anchor="end">10</text>
<text x="688.4" y="2435.6" font-size="21" text-anchor="end">1</text>
<rect x="696.8" y="2353.6" width="12.8" height="2.2"/>
<text x="675.7" y="2367.2" font-size="21" text-anchor="end">10</text>
<text x="688.4" y="2352.2" font-size="21" text-anchor="end">2</text>
<rect x="696.8" y="2270.3" width="12.8" height="2.2"/>
<text x="675.7" y="2283.9" font-size="21" text-anchor="end">10</text>
<text x="688.4" y="2268.9" font-size="21" text-anchor="end">3</text>
<rect x="696.8" y="2186.9" width="12.8" height="2.2"/>
<text x="675.7" y="2200.5" font-size="21" text-anchor="end">10</text>
<text x="688.4" y="2185.5" font-size="21" text-anchor="end">4</text>
<rect x="696.8" y="2103.6" width="12.8" height="2.2"/>
<text x="675.7" y="2117.2" font-size="21" text-anchor="end">10</text>
<text x="688.4" y="2102.2" font-size="21" text-anchor="end">5</text>
<rect x="735" y="2521.4" width="5.2" height="13.8"/>
<text x="729.4" y="2565.8" font-size="21">-</text>
<text x="736.7" y="2565.8" font-size="21">10</text>
<text x="761.1" y="2551.2" font-size="21">3</text>
<path d="M801.5 2521.4H823.1v13.5h-4.6v-4.5h-3.2v4.5h-5.6v-4.5h-3.2v4.5H801.5z"/>
<text x="813.3" y="2565.8" font-size="21">0</text>
<rect x="884.7" y="2521.4" width="5.2" height="13.8"/>
<text x="883.7" y="2565.8" font-size="21">10</text>
<text x="908.1" y="2551.2" font-size="21">3</text>
<rect x="1008.5" y="2521.4" width="5.2" height="13.8"/>
<text x="1007.5" y="2565.8" font-size="21">10</text>
<text x="1031.9" y="2551.2" font-size="21">4</text>
<rect x="1116.9" y="2521.4" width="5.2" height="13.8"/>
<text x="1115.9" y="2565.8" font-size="21">10</text>
<text x="1140.3" y="2551.2" font-size="21">5</text>
<rect x="767.1" y="2521.4" width="4" height="10"/>
<rect x="851.2" y="2521.4" width="4" height="10"/>
<rect x="975" y="2521.4" width="4" height="10"/>
<rect x="1085.6" y="2521.4" width="4" height="10"/>
<path d="M703.4 2496.3h6.2M700.8 2481.6h8.8M700.8 2471.2h8.8M700.8 2463.1h8.8M700.8 2456.5h8.8M700.8 2451h8.8M700.8 2446.1h8.8M700.8 2441.9h8.8M703.4 2413h6.2M700.8 2398.3h8.8M700.8 2387.9h8.8M700.8 2379.8h8.8M700.8 2373.2h8.8M700.8 2367.6h8.8M700.8 2362.8h8.8M700.8 2358.5h8.8M703.4 2329.6h6.2M700.8 2314.9h8.8M700.8 2304.5h8.8M700.8 2296.5h8.8M700.8 2289.9h8.8M700.8 2284.3h8.8M700.8 2279.4h8.8M700.8 2275.2h8.8M703.4 2246.3h6.2M700.8 2231.6h8.8M700.8 2221.2h8.8M700.8 2213.1h8.8M700.8 2206.5h8.8M700.8 2200.9h8.8M700.8 2196.1h8.8M700.8 2191.8h8.8M703.4 2162.9h6.2M700.8 2148.3h8.8M700.8 2137.8h8.8M700.8 2129.8h8.8M700.8 2123.2h8.8M700.8 2117.6h8.8M700.8 2112.7h8.8M700.8 2108.5h8.8M703.4 2079.6h6.2M745.3 2521.4v6.6M751.8 2521.4v6.6M757.7 2521.4v6.6M762.8 2521.4v6.6M777.2 2521.4v6.6M783.4 2521.4v6.6M788.9 2521.4v6.6M794.8 2521.4v6.6M829.6 2521.4v6.6M837.6 2521.4v6.6M845.7 2521.4v6.6M860.4 2521.4v6.6M867.3 2521.4v6.6M874 2521.4v6.6M879.1 2521.4v6.6M926.3 2521.4v6.6M948.9 2521.4v6.6M965.1 2521.4v6.6M986.3 2521.4v6.6M994.8 2521.4v6.6M1001.8 2521.4v6.6M1045 2521.4v6.6M1064.1 2521.4v6.6M1077.8 2521.4v6.6M1095.2 2521.4v6.6M1101.7 2521.4v6.6M1108.1 2521.4v6.6M1113 2521.4v6.6M1149.4 2521.4v6.6" stroke="#000" stroke-width="1.5" fill="none"/>
<text x="935.3" y="2608" font-size="24" text-anchor="middle" letter-spacing=".8">GAM-AlexaFluor647</text>
<text transform="translate(610.3 2294.7) rotate(-90)" font-size="24" text-anchor="middle" letter-spacing=".8">SSC-A</text>
<path d="M1063.9 2139.3L899.2 2139.3L899.2 2263L1124.3 2263L1124.3 2150.5" fill="none" stroke="#000" stroke-width="1.6" stroke-linejoin="miter"/><text x="1096.9" y="2105.3" font-size="24.3" text-anchor="middle" letter-spacing=".35">CAR+</text><text x="1094.9" y="2134.8" font-size="24.3" text-anchor="middle" letter-spacing=".35">96.5</text>
</g>
<g id="panel15">
<filter id="d15" filterUnits="userSpaceOnUse" x="1294" y="2057" width="452.5" height="452.5" color-interpolation-filters="sRGB"><feTurbulence type="fractalNoise" baseFrequency="0.42" numOctaves="1" seed="17" result="t"/><feColorMatrix in="t" type="matrix" values="0 0 0 0 0 0 0 0 0 0 0 0 0 0 0 1 0 0 0 0" result="na"/><feColorMatrix in="SourceGraphic" type="matrix" values="0 0 0 0 0 0 0 0 0 0 0 0 0 0 0 1 0 0 0 0"/><feComponentTransfer result="da"><feFuncA type="table" tableValues="0 0.08 0.16 0.24 0.3 0.35 0.39 0.43 0.46 0.49 0.52 0.55 0.58 0.6 0.62 0.64 0.66 0.68 0.7 0.72 0.74"/></feComponentTransfer><feComposite in="da" in2="na" operator="arithmetic" k1="0" k2="1" k3="1" k4="-0.36"/><feComponentTransfer result="m"><feFuncA type="discrete" tableValues="0 1"/></feComponentTransfer><feColorMatrix in="t" type="matrix" values="0 1 0 0 0 0 1 0 0 0 0 1 0 0 0 0 0 0 0 1" result="ng"/><feComposite in="SourceGraphic" in2="ng" operator="arithmetic" k1="0" k2="1" k3="0.9" k4="-0.45"/><feComponentTransfer result="col"><feFuncR type="table" tableValues="0.28 0.28 0.28 0.28 0.28 0.28 0.28 0.28 0.29 0.36 0.5 0.53 0.49 0.43 0.43 0.5 0.76 0.98 0.98 0.92 0.88"/><feFuncG type="table" tableValues="0.33 0.33 0.33 0.33 0.33 0.33 0.33 0.34 0.44 0.65 0.83 0.89 0.85 0.79 0.78 0.8 0.86 0.89 0.67 0.35 0.2"/><feFuncB type="table" tableValues="0.7 0.7 0.7 0.7 0.7 0.7 0.7 0.71 0.78 0.89 0.94 0.86 0.51 0.06 0.02 0.02 0.04 0.08 0.06 0.08 0.08"/></feComponentTransfer><feComposite in="col" in2="m" operator="in"/></filter><g filter="url(#d15)"><rect x="1274" y="2037" width="492.5" height="492.5" fill="#000"/><g clip-path="url(#c15)"><g transform="translate(1294 2057) scale(0.24835)"><ellipse cx="560" cy="1060" rx="330" ry="400" fill="#0d0d0d" filter="url(#b30)"/><ellipse cx="700" cy="1060" rx="160" ry="280" fill="#171717" filter="url(#b30)"/><ellipse cx="470" cy="1080" rx="190" ry="380" fill="#1f1f1f" filter="url(#b20)"/><ellipse cx="460" cy="1090" rx="150" ry="340" fill="#3d3d3d" filter="url(#b16)"/><ellipse cx="450" cy="1110" rx="120" ry="300" fill="#5c5c5c" filter="url(#b14)"/><ellipse cx="440" cy="1170" rx="88" ry="245" fill="#808080" filter="url(#b12)"/><ellipse cx="435" cy="1200" rx="62" ry="195" fill="#a8a8a8" filter="url(#b10)"/><ellipse cx="432" cy="1240" rx="42" ry="140" fill="#d1d1d1" filter="url(#b9)"/><ellipse cx="430" cy="1250" rx="20" ry="85" fill="#f7f7f7" filter="url(#b7)"/></g></g></g>
<rect x="1294" y="2057" width="452.5" height="452.5" fill="none" stroke="#8a8a8a" stroke-width="1.3"/>
<rect x="1281.2" y="2479.1" width="12.8" height="2.2"/>
<text x="1260.1" y="2492.7" font-size="21" text-anchor="end">10</text>
<text x="1235.5" y="2492.7" font-size="21" text-anchor="end">-</text>
<text x="1272.8" y="2477.7" font-size="21" text-anchor="end">3</text>
<rect x="1281.5" y="2396.2" width="12.5" height="19"/>
<text x="1260.5" y="2413.5" font-size="21" text-anchor="end">0</text>
<rect x="1281.2" y="2329.8" width="12.8" height="2.2"/>
<text x="1260.1" y="2343.4" font-size="21" text-anchor="end">10</text>
<text x="1272.8" y="2328.4" font-size="21" text-anchor="end">3</text>
<rect x="1281.2" y="2206.5" width="12.8" height="2.2"/>
<text x="1260.1" y="2220.1" font-size="21" text-anchor="end">10</text>
<text x="1272.8" y="2205.1" font-size="21" text-anchor="end">4</text>
<rect x="1281.2" y="2098.3" width="12.8" height="2.2"/>
<text x="1260.1" y="2111.9" font-size="21" text-anchor="end">10</text>
<text x="1272.8" y="2096.9" font-size="21" text-anchor="end">5</text>
<rect x="1319.3" y="2509.5" width="5.2" height="13.8"/>
<text x="1313.7" y="2553.9" font-size="21">-</text>
<text x="1321" y="2553.9" font-size="21">10</text>
<text x="1345.4" y="2539.3" font-size="21">3</text>
<path d="M1385.6 2509.5H1407.1v13.5h-4.6v-4.5h-3.2v4.5h-5.6v-4.5h-3.2v4.5H1385.6z"/>
<text x="1397.4" y="2553.9" font-size="21">0</text>
<rect x="1468.6" y="2509.5" width="5.2" height="13.8"/>
<text x="1467.6" y="2553.9" font-size="21">10</text>
<text x="1492" y="2539.3" font-size="21">3</text>
<rect x="1591.9" y="2509.5" width="5.2" height="13.8"/>
<text x="1590.9" y="2553.9" font-size="21">10</text>
<text x="1615.3" y="2539.3" font-size="21">4</text>
<rect x="1700.1" y="2509.5" width="5.2" height="13.8"/>
<text x="1699.1" y="2553.9" font-size="21">10</text>
<text x="1723.5" y="2539.3" font-size="21">5</text>
<rect x="1351.4" y="2509.5" width="4" height="10"/>
<rect x="1435.2" y="2509.5" width="4" height="10"/>
<rect x="1558.6" y="2509.5" width="4" height="10"/>
<rect x="1668.8" y="2509.5" width="4" height="10"/>
<path d="M1286.2 2448.7h7.8M1286.2 2364.9h7.8M1286.2 2241.5h7.8M1286.2 2131.3h7.8M1286.2 2472.5h7.8M1286.2 2466.1h7.8M1286.2 2460.1h7.8M1286.2 2455h7.8M1286.2 2440.7h7.8M1286.2 2434.5h7.8M1286.2 2429h7.8M1286.2 2423.2h7.8M1286.2 2388.5h7.8M1286.2 2380.5h7.8M1286.2 2372.5h7.8M1286.2 2357.7h7.8M1286.2 2350.9h7.8M1286.2 2344.2h7.8M1286.2 2339.1h7.8M1289.4 2292.1h4.6M1289.4 2269.5h4.6M1289.4 2253.4h4.6M1286.2 2232.3h7.8M1286.2 2223.8h7.8M1286.2 2216.8h7.8M1289.4 2173.7h4.6M1289.4 2154.7h4.6M1289.4 2141h4.6M1286.2 2123.7h7.8M1286.2 2117.2h7.8M1286.2 2110.9h7.8M1286.2 2106h7.8M1289.4 2069.6h4.6M1329.6 2509.5v6.6M1336 2509.5v6.6M1342 2509.5v6.6M1347.1 2509.5v6.6M1361.4 2509.5v6.6M1367.6 2509.5v6.6M1373.1 2509.5v6.6M1378.9 2509.5v6.6M1413.6 2509.5v6.6M1421.6 2509.5v6.6M1429.6 2509.5v6.6M1444.4 2509.5v6.6M1451.2 2509.5v6.6M1457.9 2509.5v6.6M1463 2509.5v6.6M1510 2509.5v6.6M1532.6 2509.5v6.6M1548.7 2509.5v6.6M1569.8 2509.5v6.6M1578.3 2509.5v6.6M1585.3 2509.5v6.6M1628.4 2509.5v6.6M1647.4 2509.5v6.6M1661.1 2509.5v6.6M1678.4 2509.5v6.6M1684.9 2509.5v6.6M1691.2 2509.5v6.6M1696.1 2509.5v6.6M1732.5 2509.5v6.6" stroke="#000" stroke-width="1.5" fill="none"/>
<text x="1519" y="2596.1" font-size="24" text-anchor="middle" letter-spacing=".8">TIM3-BV785</text>
<text transform="translate(1194.7 2283.2) rotate(-90)" font-size="24" text-anchor="middle" letter-spacing=".8">PD1-BV480</text>
<path d="M1451.7 2054V2517" stroke="#000" stroke-width="2.4" fill="none" clip-path="url(#c15)"/><path d="M1291 2345.1H1754" stroke="#000" stroke-width="2" fill="none" clip-path="url(#c15)"/><text x="1301.2" y="2094.3" font-size="24.3" text-anchor="start" letter-spacing=".35">Q5</text><text x="1301.2" y="2124.6" font-size="24.3" text-anchor="start" letter-spacing=".35">36.5</text><text x="1708.5" y="2094.3" font-size="24.3" text-anchor="end" letter-spacing=".35">Q6</text><text x="1708.5" y="2124.6" font-size="24.3" text-anchor="end" letter-spacing=".35">1.05</text><text x="1301.2" y="2453.9" font-size="24.3" text-anchor="start" letter-spacing=".35">Q8</text><text x="1301.2" y="2484.7" font-size="24.3" text-anchor="start" letter-spacing=".35">61.6</text><text x="1708.5" y="2453.9" font-size="24.3" text-anchor="end" letter-spacing=".35">Q7</text><text x="1708.5" y="2484.7" font-size="24.3" text-anchor="end" letter-spacing=".35">0.82</text>
</g>
<g id="panel16">
<filter id="d16" filterUnits="userSpaceOnUse" x="1878.6" y="2068" width="455.9" height="452" color-interpolation-filters="sRGB"><feTurbulence type="fractalNoise" baseFrequency="0.6" numOctaves="1" seed="18" result="t"/><feColorMatrix in="t" type="matrix" values="0 0 0 0 0 0 0 0 0 0 0 0 0 0 0 1 0 0 0 0" result="na"/><feColorMatrix in="SourceGraphic" type="matrix" values="0 0 0 0 0 0 0 0 0 0 0 0 0 0 0 1 0 0 0 0"/><feComponentTransfer result="da"><feFuncA type="table" tableValues="0 0.08 0.16 0.24 0.3 0.35 0.39 0.43 0.46 0.49 0.52 0.55 0.58 0.6 0.62 0.64 0.66 0.68 0.7 0.72 0.74"/></feComponentTransfer><feComposite in="da" in2="na" operator="arithmetic" k1="0" k2="1" k3="1" k4="-0.36"/><feComponentTransfer result="m"><feFuncA type="discrete" tableValues="0 1"/></feComponentTransfer><feColorMatrix in="t" type="matrix" values="0 1 0 0 0 0 1 0 0 0 0 1 0 0 0 0 0 0 0 1" result="ng"/><feComposite in="SourceGraphic" in2="ng" operator="arithmetic" k1="0" k2="1" k3="1.1" k4="-0.55"/><feComponentTransfer result="col"><feFuncR type="table" tableValues="0.28 0.28 0.28 0.28 0.28 0.28 0.28 0.28 0.29 0.36 0.5 0.53 0.49 0.43 0.43 0.5 0.76 0.98 0.98 0.92 0.88"/><feFuncG type="table" tableValues="0.33 0.33 0.33 0.33 0.33 0.33 0.33 0.34 0.44 0.65 0.83 0.89 0.85 0.79 0.78 0.8 0.86 0.89 0.67 0.35 0.2"/><feFuncB type="table" tableValues="0.7 0.7 0.7 0.7 0.7 0.7 0.7 0.71 0.78 0.89 0.94 0.86 0.51 0.06 0.02 0.02 0.04 0.08 0.06 0.08 0.08"/></feComponentTransfer><feComposite in="col" in2="m" operator="in"/></filter><g filter="url(#d16)"><rect x="1858.6" y="2048" width="495.9" height="492" fill="#000"/><g clip-path="url(#c16)"><g transform="translate(1879 2068) scale(0.24835)"><path d="M370 1150C373.3 1068.3 371.7 1040 390 980C408.3 920 428.3 836.7 480 790C531.7 743.3 616.7 701.7 700 700C783.3 698.3 906.7 738.3 980 780C1053.3 821.7 1106.7 880 1140 950C1173.3 1020 1181.7 1121.7 1180 1200C1178.3 1278.3 1166.7 1358.3 1130 1420C1093.3 1481.7 1031.7 1538.3 960 1570C888.3 1601.7 781.7 1606.7 700 1610C618.3 1613.3 525 1613.3 470 1590C415 1566.7 386.7 1543.3 370 1470C353.3 1396.7 366.7 1231.7 370 1150Z" fill="#0d0d0d" filter="url(#b40)"/><path d="M385 1150C387.5 1075 382.5 1051.7 400 1000C417.5 948.3 440 878.3 490 840C540 801.7 623.3 771.7 700 770C776.7 768.3 885 795 950 830C1015 865 1060 918.3 1090 980C1120 1041.7 1131.7 1131.7 1130 1200C1128.3 1268.3 1111.7 1335 1080 1390C1048.3 1445 1003.3 1500 940 1530C876.7 1560 776.7 1566.7 700 1570C623.3 1573.3 532.5 1570 480 1550C427.5 1530 400.8 1516.7 385 1450C369.2 1383.3 382.5 1225 385 1150Z" fill="#1f1f1f" filter="url(#b28)"/><path d="M395 1170C399.2 1105 399.2 1080 420 1040C440.8 1000 473.3 956.7 520 930C566.7 903.3 636.7 881.7 700 880C763.3 878.3 846.7 893.3 900 920C953.3 946.7 993.3 990 1020 1040C1046.7 1090 1060 1163.3 1060 1220C1060 1276.7 1046.7 1335 1020 1380C993.3 1425 953.3 1465 900 1490C846.7 1515 768.3 1525 700 1530C631.7 1535 540.8 1536.7 490 1520C439.2 1503.3 410.8 1488.3 395 1430C379.2 1371.7 390.8 1235 395 1170Z" fill="#383838" filter="url(#b22)"/><path d="M400 1200C406.7 1146.7 413.3 1126.7 440 1100C466.7 1073.3 513.3 1051.7 560 1040C606.7 1028.3 666.7 1023.3 720 1030C773.3 1036.7 840 1051.7 880 1080C920 1108.3 948.3 1153.3 960 1200C971.7 1246.7 966.7 1316.7 950 1360C933.3 1403.3 901.7 1436.7 860 1460C818.3 1483.3 760 1493.3 700 1500C640 1506.7 550 1513.3 500 1500C450 1486.7 416.7 1470 400 1420C383.3 1370 393.3 1253.3 400 1200Z" fill="#575757" filter="url(#b20)"/><ellipse cx="650" cy="1310" rx="250" ry="220" fill="#808080" filter="url(#b22)"/><ellipse cx="610" cy="1330" rx="185" ry="170" fill="#a8a8a8" filter="url(#b18)"/><ellipse cx="580" cy="1340" rx="120" ry="110" fill="#d1d1d1" filter="url(#b14)"/><ellipse cx="570" cy="1340" rx="60" ry="55" fill="#f2f2f2" filter="url(#b10)"/></g></g></g>
<rect x="1878.6" y="2068" width="455.9" height="452" fill="none" stroke="#8a8a8a" stroke-width="1.3"/>
<rect x="1865.8" y="2489.6" width="12.8" height="2.2"/>
<text x="1844.7" y="2503.2" font-size="21" text-anchor="end">10</text>
<text x="1820.1" y="2503.2" font-size="21" text-anchor="end">-</text>
<text x="1857.4" y="2488.2" font-size="21" text-anchor="end">3</text>
<rect x="1866.1" y="2406.8" width="12.5" height="19"/>
<text x="1845.1" y="2424.1" font-size="21" text-anchor="end">0</text>
<rect x="1865.8" y="2340.5" width="12.8" height="2.2"/>
<text x="1844.7" y="2354.1" font-size="21" text-anchor="end">10</text>
<text x="1857.4" y="2339.1" font-size="21" text-anchor="end">3</text>
<rect x="1865.8" y="2217.3" width="12.8" height="2.2"/>
<text x="1844.7" y="2230.9" font-size="21" text-anchor="end">10</text>
<text x="1857.4" y="2215.9" font-size="21" text-anchor="end">4</text>
<rect x="1865.8" y="2109.3" width="12.8" height="2.2"/>
<text x="1844.7" y="2122.9" font-size="21" text-anchor="end">10</text>
<text x="1857.4" y="2107.9" font-size="21" text-anchor="end">5</text>
<rect x="1904.1" y="2520" width="5.2" height="13.8"/>
<text x="1898.5" y="2564.4" font-size="21">-</text>
<text x="1905.8" y="2564.4" font-size="21">10</text>
<text x="1930.2" y="2549.8" font-size="21">3</text>
<path d="M1970.9 2520H1992.6v13.5h-4.6v-4.5h-3.2v4.5h-5.6v-4.5h-3.2v4.5H1970.9z"/>
<text x="1982.8" y="2564.4" font-size="21">0</text>
<rect x="2054.5" y="2520" width="5.2" height="13.8"/>
<text x="2053.5" y="2564.4" font-size="21">10</text>
<text x="2077.9" y="2549.8" font-size="21">3</text>
<rect x="2178.8" y="2520" width="5.2" height="13.8"/>
<text x="2177.8" y="2564.4" font-size="21">10</text>
<text x="2202.2" y="2549.8" font-size="21">4</text>
<rect x="2287.7" y="2520" width="5.2" height="13.8"/>
<text x="2286.7" y="2564.4" font-size="21">10</text>
<text x="2311.1" y="2549.8" font-size="21">5</text>
<rect x="1936.4" y="2520" width="4" height="10"/>
<rect x="2020.8" y="2520" width="4" height="10"/>
<rect x="2145.2" y="2520" width="4" height="10"/>
<rect x="2256.2" y="2520" width="4" height="10"/>
<path d="M1870.8 2459.3h7.8M1870.8 2375.6h7.8M1870.8 2252.3h7.8M1870.8 2142.2h7.8M1870.8 2483h7.8M1870.8 2476.6h7.8M1870.8 2470.7h7.8M1870.8 2465.6h7.8M1870.8 2451.3h7.8M1870.8 2445.1h7.8M1870.8 2439.6h7.8M1870.8 2433.8h7.8M1870.8 2399.1h7.8M1870.8 2391.1h7.8M1870.8 2383.1h7.8M1870.8 2368.4h7.8M1870.8 2361.6h7.8M1870.8 2354.9h7.8M1870.8 2349.8h7.8M1874 2302.8h4.6M1874 2280.3h4.6M1874 2264.2h4.6M1870.8 2243.1h7.8M1870.8 2234.6h7.8M1870.8 2227.6h7.8M1874 2184.6h4.6M1874 2165.6h4.6M1874 2151.9h4.6M1870.8 2134.6h7.8M1870.8 2128.1h7.8M1870.8 2121.8h7.8M1870.8 2116.9h7.8M1874 2080.6h4.6M1914.5 2520v6.6M1921 2520v6.6M1926.9 2520v6.6M1932.1 2520v6.6M1946.5 2520v6.6M1952.7 2520v6.6M1958.3 2520v6.6M1964.1 2520v6.6M1999.1 2520v6.6M2007.2 2520v6.6M2015.3 2520v6.6M2030.1 2520v6.6M2037 2520v6.6M2043.7 2520v6.6M2048.9 2520v6.6M2096.3 2520v6.6M2119 2520v6.6M2135.2 2520v6.6M2156.5 2520v6.6M2165.1 2520v6.6M2172.1 2520v6.6M2215.5 2520v6.6M2234.6 2520v6.6M2248.5 2520v6.6M2265.9 2520v6.6M2272.5 2520v6.6M2278.8 2520v6.6M2283.8 2520v6.6M2320.4 2520v6.6" stroke="#000" stroke-width="1.5" fill="none"/>
<text x="2105.4" y="2606.6" font-size="24" text-anchor="middle" letter-spacing=".8">PD1-BV480</text>
<text transform="translate(1779.3 2294) rotate(-90)" font-size="24" text-anchor="middle" letter-spacing=".8">LAG3-PerCP-Cy5.5</text>
<path d="M2045.4 2065V2528" stroke="#000" stroke-width="2.4" fill="none" clip-path="url(#c16)"/><path d="M1876 2349.4H2339" stroke="#000" stroke-width="2" fill="none" clip-path="url(#c16)"/><text x="1886.2" y="2105.3" font-size="24.3" text-anchor="start" letter-spacing=".35">Q11</text><text x="1886.2" y="2135.6" font-size="24.3" text-anchor="start" letter-spacing=".35">4.85</text><text x="2293.5" y="2105.3" font-size="24.3" text-anchor="end" letter-spacing=".35">Q10</text><text x="2293.5" y="2135.6" font-size="24.3" text-anchor="end" letter-spacing=".35">4.97</text><text x="1886.2" y="2465.4" font-size="24.3" text-anchor="start" letter-spacing=".35">Q12</text><text x="1886.2" y="2495.7" font-size="24.3" text-anchor="start" letter-spacing=".35">58.2</text><text x="2293.5" y="2465.4" font-size="24.3" text-anchor="end" letter-spacing=".35">Q9</text><text x="2293.5" y="2495.7" font-size="24.3" text-anchor="end" letter-spacing=".35">32.0</text>
</g>
<text transform="translate(79.6 32.2) scale(.9 1)" font-size="58" font-weight="bold" style="fill:#000;letter-spacing:0">a</text><text x="83.3" y="1388.4" font-size="58" font-weight="bold" style="fill:#000;letter-spacing:0">b</text><path d="M425.5 177.5H683" stroke="#000" stroke-width="4.8" fill="none"/><path d="M657.5 162.4L683 177.5L657.5 192.6" stroke="#000" stroke-width="8.2" fill="none" stroke-linecap="round" stroke-linejoin="miter" stroke-miterlimit="10"/><path d="M836.5 177.5H1253.5" stroke="#000" stroke-width="4.8" fill="none"/><path d="M1228 162.4L1253.5 177.5L1228 192.6" stroke="#000" stroke-width="8.2" fill="none" stroke-linecap="round" stroke-linejoin="miter" stroke-miterlimit="10"/><path d="M1584.5 177.5H1841.7" stroke="#000" stroke-width="4.8" fill="none"/><path d="M1816.2 162.4L1841.7 177.5L1816.2 192.6" stroke="#000" stroke-width="8.2" fill="none" stroke-linecap="round" stroke-linejoin="miter" stroke-miterlimit="10"/><path d="M1946.2 534V641.6H466.3V688" stroke="#000" stroke-width="4.8" fill="none" stroke-linejoin="miter"/><path d="M451.2 662.5L466.3 688L481.4 662.5" stroke="#000" stroke-width="8.2" fill="none" stroke-linecap="round" stroke-linejoin="miter" stroke-miterlimit="10"/><path d="M504.5 797.7H689" stroke="#000" stroke-width="4.8" fill="none"/><path d="M671.5 783.2L689 797.7L671.5 812.2" stroke="#000" stroke-width="8.2" fill="none" stroke-linecap="round" stroke-linejoin="miter" stroke-miterlimit="10"/><path d="M1051 797.7H1261.2" stroke="#000" stroke-width="4.8" fill="none"/><path d="M1243.2 782.9L1261.2 797.7L1243.2 812.5" stroke="#000" stroke-width="8.2" fill="none" stroke-linecap="round" stroke-linejoin="miter" stroke-miterlimit="10"/><path d="M425.5 1523H683" stroke="#000" stroke-width="4.8" fill="none"/><path d="M657.5 1507.9L683 1523L657.5 1538.1" stroke="#000" stroke-width="8.2" fill="none" stroke-linecap="round" stroke-linejoin="miter" stroke-miterlimit="10"/><path d="M836.5 1523H1253.5" stroke="#000" stroke-width="4.8" fill="none"/><path d="M1228 1507.9L1253.5 1523L1228 1538.1" stroke="#000" stroke-width="8.2" fill="none" stroke-linecap="round" stroke-linejoin="miter" stroke-miterlimit="10"/><path d="M1584.5 1523H1841.7" stroke="#000" stroke-width="4.8" fill="none"/><path d="M1816.2 1507.9L1841.7 1523L1816.2 1538.1" stroke="#000" stroke-width="8.2" fill="none" stroke-linecap="round" stroke-linejoin="miter" stroke-miterlimit="10"/><path d="M1946.2 1880V2009.5H466.3V2054" stroke="#000" stroke-width="4.8" fill="none" stroke-linejoin="miter"/><path d="M451.2 2028.5L466.3 2054L481.4 2028.5" stroke="#000" stroke-width="8.2" fill="none" stroke-linecap="round" stroke-linejoin="miter" stroke-miterlimit="10"/><path d="M504.5 2157.3H689" stroke="#000" stroke-width="4.8" fill="none"/><path d="M671.5 2142.8L689 2157.3L671.5 2171.8" stroke="#000" stroke-width="8.2" fill="none" stroke-linecap="round" stroke-linejoin="miter" stroke-miterlimit="10"/><path d="M1051 2157.3H1261.2" stroke="#000" stroke-width="4.8" fill="none"/><path d="M1243.2 2142.5L1261.2 2157.3L1243.2 2172.1" stroke="#000" stroke-width="8.2" fill="none" stroke-linecap="round" stroke-linejoin="miter" stroke-miterlimit="10"/>
</svg></body></html>
